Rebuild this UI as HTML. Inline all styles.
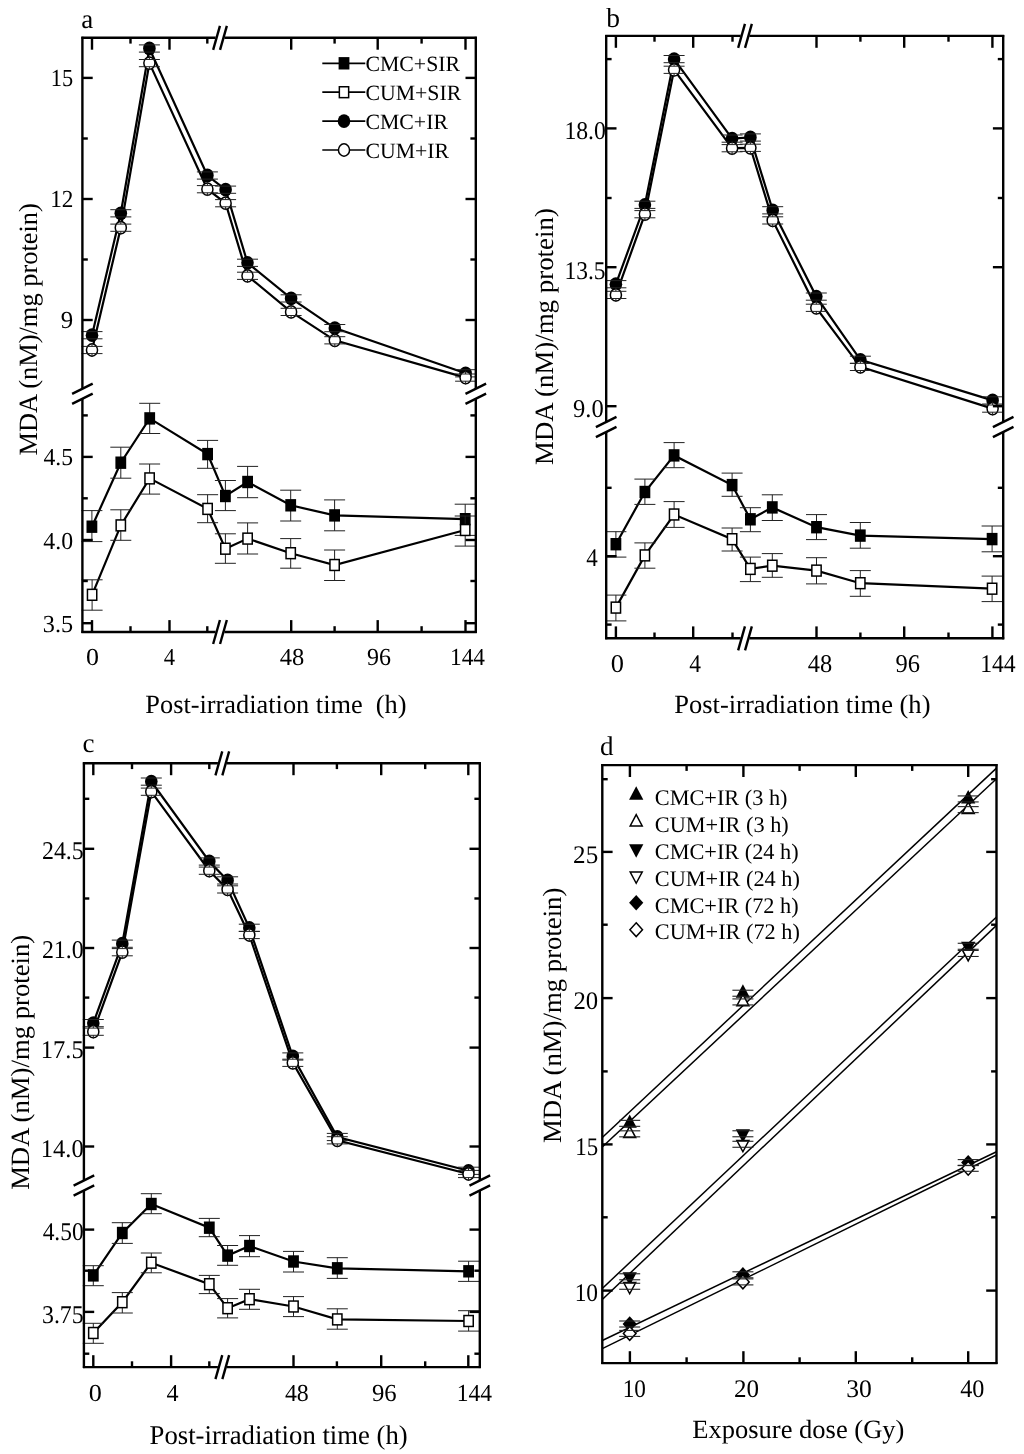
<!DOCTYPE html><html><head><meta charset="utf-8"><style>html,body{margin:0;padding:0;background:#fff;overflow:hidden}svg{display:block;will-change:transform}text{font-family:"Liberation Serif",serif;fill:#000;text-rendering:geometricPrecision}</style></head><body>
<svg width="1024" height="1454" viewBox="0 0 1024 1454">
<rect width="1024" height="1454" fill="#fff"/>
<polyline points="92.00,335.20 120.80,213.30 149.40,48.50 207.40,175.50 225.60,189.70 247.50,262.80 291.10,298.40 334.80,328.10 465.60,373.30" fill="none" stroke="#000" stroke-width="2.2" stroke-linejoin="miter"/>
<polyline points="92.00,350.00 120.80,227.70 149.40,63.10 207.40,189.20 225.60,203.20 247.50,275.80 291.10,311.90 334.80,340.30 465.60,377.60" fill="none" stroke="#000" stroke-width="2.2" stroke-linejoin="miter"/>
<polyline points="91.90,526.70 120.80,462.70 149.70,418.40 207.60,454.10 225.40,496.00 247.60,482.00 290.70,505.30 334.60,515.40 465.20,519.20" fill="none" stroke="#000" stroke-width="2.2" stroke-linejoin="miter"/>
<polyline points="92.10,594.80 120.80,525.40 149.60,478.40 207.60,508.90 225.40,548.70 247.60,538.60 290.70,553.20 334.60,565.00 465.20,530.00" fill="none" stroke="#000" stroke-width="2.2" stroke-linejoin="miter"/>
<line x1="91.90" y1="510.60" x2="91.90" y2="541.60" stroke="#222" stroke-width="1.0" stroke-linecap="butt"/>
<line x1="120.80" y1="447.20" x2="120.80" y2="478.20" stroke="#222" stroke-width="1.0" stroke-linecap="butt"/>
<line x1="149.70" y1="403.30" x2="149.70" y2="433.50" stroke="#222" stroke-width="1.0" stroke-linecap="butt"/>
<line x1="207.60" y1="440.40" x2="207.60" y2="468.30" stroke="#222" stroke-width="1.0" stroke-linecap="butt"/>
<line x1="225.40" y1="480.50" x2="225.40" y2="510.60" stroke="#222" stroke-width="1.0" stroke-linecap="butt"/>
<line x1="247.60" y1="466.40" x2="247.60" y2="497.70" stroke="#222" stroke-width="1.0" stroke-linecap="butt"/>
<line x1="290.70" y1="490.20" x2="290.70" y2="521.00" stroke="#222" stroke-width="1.0" stroke-linecap="butt"/>
<line x1="334.60" y1="499.90" x2="334.60" y2="530.80" stroke="#222" stroke-width="1.0" stroke-linecap="butt"/>
<line x1="465.20" y1="504.20" x2="465.20" y2="535.40" stroke="#222" stroke-width="1.0" stroke-linecap="butt"/>
<line x1="81.40" y1="510.60" x2="102.40" y2="510.60" stroke="#222" stroke-width="1.0" stroke-linecap="butt"/>
<line x1="81.40" y1="541.60" x2="102.40" y2="541.60" stroke="#222" stroke-width="1.0" stroke-linecap="butt"/>
<line x1="110.30" y1="447.20" x2="131.30" y2="447.20" stroke="#222" stroke-width="1.0" stroke-linecap="butt"/>
<line x1="110.30" y1="478.20" x2="131.30" y2="478.20" stroke="#222" stroke-width="1.0" stroke-linecap="butt"/>
<line x1="139.20" y1="403.30" x2="160.20" y2="403.30" stroke="#222" stroke-width="1.0" stroke-linecap="butt"/>
<line x1="139.20" y1="433.50" x2="160.20" y2="433.50" stroke="#222" stroke-width="1.0" stroke-linecap="butt"/>
<line x1="197.10" y1="440.40" x2="218.10" y2="440.40" stroke="#222" stroke-width="1.0" stroke-linecap="butt"/>
<line x1="197.10" y1="468.30" x2="218.10" y2="468.30" stroke="#222" stroke-width="1.0" stroke-linecap="butt"/>
<line x1="214.90" y1="480.50" x2="235.90" y2="480.50" stroke="#222" stroke-width="1.0" stroke-linecap="butt"/>
<line x1="214.90" y1="510.60" x2="235.90" y2="510.60" stroke="#222" stroke-width="1.0" stroke-linecap="butt"/>
<line x1="237.10" y1="466.40" x2="258.10" y2="466.40" stroke="#222" stroke-width="1.0" stroke-linecap="butt"/>
<line x1="237.10" y1="497.70" x2="258.10" y2="497.70" stroke="#222" stroke-width="1.0" stroke-linecap="butt"/>
<line x1="280.20" y1="490.20" x2="301.20" y2="490.20" stroke="#222" stroke-width="1.0" stroke-linecap="butt"/>
<line x1="280.20" y1="521.00" x2="301.20" y2="521.00" stroke="#222" stroke-width="1.0" stroke-linecap="butt"/>
<line x1="324.10" y1="499.90" x2="345.10" y2="499.90" stroke="#222" stroke-width="1.0" stroke-linecap="butt"/>
<line x1="324.10" y1="530.80" x2="345.10" y2="530.80" stroke="#222" stroke-width="1.0" stroke-linecap="butt"/>
<line x1="454.70" y1="504.20" x2="475.70" y2="504.20" stroke="#222" stroke-width="1.0" stroke-linecap="butt"/>
<line x1="454.70" y1="535.40" x2="475.70" y2="535.40" stroke="#222" stroke-width="1.0" stroke-linecap="butt"/>
<rect x="86.50" y="520.50" width="10.8" height="12.4" fill="#000"/>
<rect x="115.40" y="456.50" width="10.8" height="12.4" fill="#000"/>
<rect x="144.30" y="412.20" width="10.8" height="12.4" fill="#000"/>
<rect x="202.20" y="447.90" width="10.8" height="12.4" fill="#000"/>
<rect x="220.00" y="489.80" width="10.8" height="12.4" fill="#000"/>
<rect x="242.20" y="475.80" width="10.8" height="12.4" fill="#000"/>
<rect x="285.30" y="499.10" width="10.8" height="12.4" fill="#000"/>
<rect x="329.20" y="509.20" width="10.8" height="12.4" fill="#000"/>
<rect x="459.80" y="513.00" width="10.8" height="12.4" fill="#000"/>
<line x1="92.10" y1="579.80" x2="92.10" y2="610.20" stroke="#222" stroke-width="1.0" stroke-linecap="butt"/>
<line x1="120.80" y1="509.80" x2="120.80" y2="540.30" stroke="#222" stroke-width="1.0" stroke-linecap="butt"/>
<line x1="149.60" y1="464.00" x2="149.60" y2="494.10" stroke="#222" stroke-width="1.0" stroke-linecap="butt"/>
<line x1="207.60" y1="494.70" x2="207.60" y2="522.70" stroke="#222" stroke-width="1.0" stroke-linecap="butt"/>
<line x1="225.40" y1="533.80" x2="225.40" y2="563.30" stroke="#222" stroke-width="1.0" stroke-linecap="butt"/>
<line x1="247.60" y1="522.90" x2="247.60" y2="554.00" stroke="#222" stroke-width="1.0" stroke-linecap="butt"/>
<line x1="290.70" y1="538.60" x2="290.70" y2="568.20" stroke="#222" stroke-width="1.0" stroke-linecap="butt"/>
<line x1="334.60" y1="550.00" x2="334.60" y2="580.50" stroke="#222" stroke-width="1.0" stroke-linecap="butt"/>
<line x1="465.20" y1="516.00" x2="465.20" y2="546.10" stroke="#222" stroke-width="1.0" stroke-linecap="butt"/>
<line x1="81.60" y1="579.80" x2="102.60" y2="579.80" stroke="#222" stroke-width="1.0" stroke-linecap="butt"/>
<line x1="81.60" y1="610.20" x2="102.60" y2="610.20" stroke="#222" stroke-width="1.0" stroke-linecap="butt"/>
<line x1="110.30" y1="509.80" x2="131.30" y2="509.80" stroke="#222" stroke-width="1.0" stroke-linecap="butt"/>
<line x1="110.30" y1="540.30" x2="131.30" y2="540.30" stroke="#222" stroke-width="1.0" stroke-linecap="butt"/>
<line x1="139.10" y1="464.00" x2="160.10" y2="464.00" stroke="#222" stroke-width="1.0" stroke-linecap="butt"/>
<line x1="139.10" y1="494.10" x2="160.10" y2="494.10" stroke="#222" stroke-width="1.0" stroke-linecap="butt"/>
<line x1="197.10" y1="494.70" x2="218.10" y2="494.70" stroke="#222" stroke-width="1.0" stroke-linecap="butt"/>
<line x1="197.10" y1="522.70" x2="218.10" y2="522.70" stroke="#222" stroke-width="1.0" stroke-linecap="butt"/>
<line x1="214.90" y1="533.80" x2="235.90" y2="533.80" stroke="#222" stroke-width="1.0" stroke-linecap="butt"/>
<line x1="214.90" y1="563.30" x2="235.90" y2="563.30" stroke="#222" stroke-width="1.0" stroke-linecap="butt"/>
<line x1="237.10" y1="522.90" x2="258.10" y2="522.90" stroke="#222" stroke-width="1.0" stroke-linecap="butt"/>
<line x1="237.10" y1="554.00" x2="258.10" y2="554.00" stroke="#222" stroke-width="1.0" stroke-linecap="butt"/>
<line x1="280.20" y1="538.60" x2="301.20" y2="538.60" stroke="#222" stroke-width="1.0" stroke-linecap="butt"/>
<line x1="280.20" y1="568.20" x2="301.20" y2="568.20" stroke="#222" stroke-width="1.0" stroke-linecap="butt"/>
<line x1="324.10" y1="550.00" x2="345.10" y2="550.00" stroke="#222" stroke-width="1.0" stroke-linecap="butt"/>
<line x1="324.10" y1="580.50" x2="345.10" y2="580.50" stroke="#222" stroke-width="1.0" stroke-linecap="butt"/>
<line x1="454.70" y1="516.00" x2="475.70" y2="516.00" stroke="#222" stroke-width="1.0" stroke-linecap="butt"/>
<line x1="454.70" y1="546.10" x2="475.70" y2="546.10" stroke="#222" stroke-width="1.0" stroke-linecap="butt"/>
<rect x="87.45" y="589.35" width="9.30" height="10.90" fill="#fff" stroke="#000" stroke-width="1.5"/>
<rect x="116.15" y="519.95" width="9.30" height="10.90" fill="#fff" stroke="#000" stroke-width="1.5"/>
<rect x="144.95" y="472.95" width="9.30" height="10.90" fill="#fff" stroke="#000" stroke-width="1.5"/>
<rect x="202.95" y="503.45" width="9.30" height="10.90" fill="#fff" stroke="#000" stroke-width="1.5"/>
<rect x="220.75" y="543.25" width="9.30" height="10.90" fill="#fff" stroke="#000" stroke-width="1.5"/>
<rect x="242.95" y="533.15" width="9.30" height="10.90" fill="#fff" stroke="#000" stroke-width="1.5"/>
<rect x="286.05" y="547.75" width="9.30" height="10.90" fill="#fff" stroke="#000" stroke-width="1.5"/>
<rect x="329.95" y="559.55" width="9.30" height="10.90" fill="#fff" stroke="#000" stroke-width="1.5"/>
<rect x="460.55" y="524.55" width="9.30" height="10.90" fill="#fff" stroke="#000" stroke-width="1.5"/>
<ellipse cx="92.00" cy="335.20" rx="6.3" ry="6.9" fill="#000"/>
<ellipse cx="120.80" cy="213.30" rx="6.3" ry="6.9" fill="#000"/>
<ellipse cx="149.40" cy="48.50" rx="6.3" ry="6.9" fill="#000"/>
<ellipse cx="207.40" cy="175.50" rx="6.3" ry="6.9" fill="#000"/>
<ellipse cx="225.60" cy="189.70" rx="6.3" ry="6.9" fill="#000"/>
<ellipse cx="247.50" cy="262.80" rx="6.3" ry="6.9" fill="#000"/>
<ellipse cx="291.10" cy="298.40" rx="6.3" ry="6.9" fill="#000"/>
<ellipse cx="334.80" cy="328.10" rx="6.3" ry="6.9" fill="#000"/>
<ellipse cx="465.60" cy="373.30" rx="6.3" ry="6.9" fill="#000"/>
<line x1="81.50" y1="331.60" x2="102.50" y2="331.60" stroke="#222" stroke-width="1.0" stroke-linecap="butt"/>
<line x1="81.50" y1="338.80" x2="102.50" y2="338.80" stroke="#222" stroke-width="1.0" stroke-linecap="butt"/>
<line x1="110.30" y1="209.70" x2="131.30" y2="209.70" stroke="#222" stroke-width="1.0" stroke-linecap="butt"/>
<line x1="110.30" y1="216.90" x2="131.30" y2="216.90" stroke="#222" stroke-width="1.0" stroke-linecap="butt"/>
<line x1="138.90" y1="44.90" x2="159.90" y2="44.90" stroke="#222" stroke-width="1.0" stroke-linecap="butt"/>
<line x1="138.90" y1="52.10" x2="159.90" y2="52.10" stroke="#222" stroke-width="1.0" stroke-linecap="butt"/>
<line x1="196.90" y1="171.90" x2="217.90" y2="171.90" stroke="#222" stroke-width="1.0" stroke-linecap="butt"/>
<line x1="196.90" y1="179.10" x2="217.90" y2="179.10" stroke="#222" stroke-width="1.0" stroke-linecap="butt"/>
<line x1="215.10" y1="186.10" x2="236.10" y2="186.10" stroke="#222" stroke-width="1.0" stroke-linecap="butt"/>
<line x1="215.10" y1="193.30" x2="236.10" y2="193.30" stroke="#222" stroke-width="1.0" stroke-linecap="butt"/>
<line x1="237.00" y1="259.20" x2="258.00" y2="259.20" stroke="#222" stroke-width="1.0" stroke-linecap="butt"/>
<line x1="237.00" y1="266.40" x2="258.00" y2="266.40" stroke="#222" stroke-width="1.0" stroke-linecap="butt"/>
<line x1="280.60" y1="294.80" x2="301.60" y2="294.80" stroke="#222" stroke-width="1.0" stroke-linecap="butt"/>
<line x1="280.60" y1="302.00" x2="301.60" y2="302.00" stroke="#222" stroke-width="1.0" stroke-linecap="butt"/>
<line x1="324.30" y1="324.50" x2="345.30" y2="324.50" stroke="#222" stroke-width="1.0" stroke-linecap="butt"/>
<line x1="324.30" y1="331.70" x2="345.30" y2="331.70" stroke="#222" stroke-width="1.0" stroke-linecap="butt"/>
<line x1="455.10" y1="369.70" x2="476.10" y2="369.70" stroke="#222" stroke-width="1.0" stroke-linecap="butt"/>
<line x1="455.10" y1="376.90" x2="476.10" y2="376.90" stroke="#222" stroke-width="1.0" stroke-linecap="butt"/>
<ellipse cx="92.00" cy="350.00" rx="5.55" ry="6.15" fill="#fff" stroke="#000" stroke-width="1.5"/>
<ellipse cx="120.80" cy="227.70" rx="5.55" ry="6.15" fill="#fff" stroke="#000" stroke-width="1.5"/>
<ellipse cx="149.40" cy="63.10" rx="5.55" ry="6.15" fill="#fff" stroke="#000" stroke-width="1.5"/>
<ellipse cx="207.40" cy="189.20" rx="5.55" ry="6.15" fill="#fff" stroke="#000" stroke-width="1.5"/>
<ellipse cx="225.60" cy="203.20" rx="5.55" ry="6.15" fill="#fff" stroke="#000" stroke-width="1.5"/>
<ellipse cx="247.50" cy="275.80" rx="5.55" ry="6.15" fill="#fff" stroke="#000" stroke-width="1.5"/>
<ellipse cx="291.10" cy="311.90" rx="5.55" ry="6.15" fill="#fff" stroke="#000" stroke-width="1.5"/>
<ellipse cx="334.80" cy="340.30" rx="5.55" ry="6.15" fill="#fff" stroke="#000" stroke-width="1.5"/>
<ellipse cx="465.60" cy="377.60" rx="5.55" ry="6.15" fill="#fff" stroke="#000" stroke-width="1.5"/>
<line x1="92.00" y1="346.40" x2="92.00" y2="343.10" stroke="#222" stroke-width="1.0" stroke-linecap="butt"/>
<line x1="81.50" y1="346.40" x2="102.50" y2="346.40" stroke="#222" stroke-width="1.0" stroke-linecap="butt"/>
<line x1="92.00" y1="353.60" x2="92.00" y2="356.90" stroke="#222" stroke-width="1.0" stroke-linecap="butt"/>
<line x1="81.50" y1="353.60" x2="102.50" y2="353.60" stroke="#222" stroke-width="1.0" stroke-linecap="butt"/>
<line x1="120.80" y1="224.10" x2="120.80" y2="220.80" stroke="#222" stroke-width="1.0" stroke-linecap="butt"/>
<line x1="110.30" y1="224.10" x2="131.30" y2="224.10" stroke="#222" stroke-width="1.0" stroke-linecap="butt"/>
<line x1="120.80" y1="231.30" x2="120.80" y2="234.60" stroke="#222" stroke-width="1.0" stroke-linecap="butt"/>
<line x1="110.30" y1="231.30" x2="131.30" y2="231.30" stroke="#222" stroke-width="1.0" stroke-linecap="butt"/>
<line x1="149.40" y1="59.50" x2="149.40" y2="56.20" stroke="#222" stroke-width="1.0" stroke-linecap="butt"/>
<line x1="138.90" y1="59.50" x2="159.90" y2="59.50" stroke="#222" stroke-width="1.0" stroke-linecap="butt"/>
<line x1="149.40" y1="66.70" x2="149.40" y2="70.00" stroke="#222" stroke-width="1.0" stroke-linecap="butt"/>
<line x1="138.90" y1="66.70" x2="159.90" y2="66.70" stroke="#222" stroke-width="1.0" stroke-linecap="butt"/>
<line x1="207.40" y1="185.60" x2="207.40" y2="182.30" stroke="#222" stroke-width="1.0" stroke-linecap="butt"/>
<line x1="196.90" y1="185.60" x2="217.90" y2="185.60" stroke="#222" stroke-width="1.0" stroke-linecap="butt"/>
<line x1="207.40" y1="192.80" x2="207.40" y2="196.10" stroke="#222" stroke-width="1.0" stroke-linecap="butt"/>
<line x1="196.90" y1="192.80" x2="217.90" y2="192.80" stroke="#222" stroke-width="1.0" stroke-linecap="butt"/>
<line x1="225.60" y1="199.60" x2="225.60" y2="196.30" stroke="#222" stroke-width="1.0" stroke-linecap="butt"/>
<line x1="215.10" y1="199.60" x2="236.10" y2="199.60" stroke="#222" stroke-width="1.0" stroke-linecap="butt"/>
<line x1="225.60" y1="206.80" x2="225.60" y2="210.10" stroke="#222" stroke-width="1.0" stroke-linecap="butt"/>
<line x1="215.10" y1="206.80" x2="236.10" y2="206.80" stroke="#222" stroke-width="1.0" stroke-linecap="butt"/>
<line x1="247.50" y1="272.20" x2="247.50" y2="268.90" stroke="#222" stroke-width="1.0" stroke-linecap="butt"/>
<line x1="237.00" y1="272.20" x2="258.00" y2="272.20" stroke="#222" stroke-width="1.0" stroke-linecap="butt"/>
<line x1="247.50" y1="279.40" x2="247.50" y2="282.70" stroke="#222" stroke-width="1.0" stroke-linecap="butt"/>
<line x1="237.00" y1="279.40" x2="258.00" y2="279.40" stroke="#222" stroke-width="1.0" stroke-linecap="butt"/>
<line x1="291.10" y1="308.30" x2="291.10" y2="305.00" stroke="#222" stroke-width="1.0" stroke-linecap="butt"/>
<line x1="280.60" y1="308.30" x2="301.60" y2="308.30" stroke="#222" stroke-width="1.0" stroke-linecap="butt"/>
<line x1="291.10" y1="315.50" x2="291.10" y2="318.80" stroke="#222" stroke-width="1.0" stroke-linecap="butt"/>
<line x1="280.60" y1="315.50" x2="301.60" y2="315.50" stroke="#222" stroke-width="1.0" stroke-linecap="butt"/>
<line x1="334.80" y1="336.70" x2="334.80" y2="333.40" stroke="#222" stroke-width="1.0" stroke-linecap="butt"/>
<line x1="324.30" y1="336.70" x2="345.30" y2="336.70" stroke="#222" stroke-width="1.0" stroke-linecap="butt"/>
<line x1="334.80" y1="343.90" x2="334.80" y2="347.20" stroke="#222" stroke-width="1.0" stroke-linecap="butt"/>
<line x1="324.30" y1="343.90" x2="345.30" y2="343.90" stroke="#222" stroke-width="1.0" stroke-linecap="butt"/>
<line x1="465.60" y1="374.00" x2="465.60" y2="370.70" stroke="#222" stroke-width="1.0" stroke-linecap="butt"/>
<line x1="455.10" y1="374.00" x2="476.10" y2="374.00" stroke="#222" stroke-width="1.0" stroke-linecap="butt"/>
<line x1="465.60" y1="381.20" x2="465.60" y2="384.50" stroke="#222" stroke-width="1.0" stroke-linecap="butt"/>
<line x1="455.10" y1="381.20" x2="476.10" y2="381.20" stroke="#222" stroke-width="1.0" stroke-linecap="butt"/>
<line x1="81.40" y1="37.80" x2="215.60" y2="37.80" stroke="#000" stroke-width="2.4" stroke-linecap="butt"/>
<line x1="224.40" y1="37.80" x2="476.80" y2="37.80" stroke="#000" stroke-width="2.4" stroke-linecap="butt"/>
<line x1="81.40" y1="632.00" x2="215.60" y2="632.00" stroke="#000" stroke-width="2.4" stroke-linecap="butt"/>
<line x1="224.40" y1="632.00" x2="476.80" y2="632.00" stroke="#000" stroke-width="2.4" stroke-linecap="butt"/>
<line x1="82.40" y1="36.80" x2="82.40" y2="388.70" stroke="#000" stroke-width="2.4" stroke-linecap="butt"/>
<line x1="82.40" y1="398.70" x2="82.40" y2="633.00" stroke="#000" stroke-width="2.4" stroke-linecap="butt"/>
<line x1="475.80" y1="36.80" x2="475.80" y2="388.70" stroke="#000" stroke-width="2.4" stroke-linecap="butt"/>
<line x1="475.80" y1="398.70" x2="475.80" y2="633.00" stroke="#000" stroke-width="2.4" stroke-linecap="butt"/>
<line x1="92.00" y1="632.00" x2="92.00" y2="620.10" stroke="#000" stroke-width="2.4" stroke-linecap="butt"/>
<line x1="92.00" y1="37.80" x2="92.00" y2="49.70" stroke="#000" stroke-width="2.4" stroke-linecap="butt"/>
<line x1="169.50" y1="632.00" x2="169.50" y2="620.10" stroke="#000" stroke-width="2.4" stroke-linecap="butt"/>
<line x1="169.50" y1="37.80" x2="169.50" y2="49.70" stroke="#000" stroke-width="2.4" stroke-linecap="butt"/>
<line x1="291.20" y1="632.00" x2="291.20" y2="620.10" stroke="#000" stroke-width="2.4" stroke-linecap="butt"/>
<line x1="291.20" y1="37.80" x2="291.20" y2="49.70" stroke="#000" stroke-width="2.4" stroke-linecap="butt"/>
<line x1="377.70" y1="632.00" x2="377.70" y2="620.10" stroke="#000" stroke-width="2.4" stroke-linecap="butt"/>
<line x1="377.70" y1="37.80" x2="377.70" y2="49.70" stroke="#000" stroke-width="2.4" stroke-linecap="butt"/>
<line x1="465.50" y1="632.00" x2="465.50" y2="620.10" stroke="#000" stroke-width="2.4" stroke-linecap="butt"/>
<line x1="465.50" y1="37.80" x2="465.50" y2="49.70" stroke="#000" stroke-width="2.4" stroke-linecap="butt"/>
<line x1="130.50" y1="632.00" x2="130.50" y2="626.20" stroke="#000" stroke-width="2.4" stroke-linecap="butt"/>
<line x1="130.50" y1="37.80" x2="130.50" y2="43.60" stroke="#000" stroke-width="2.4" stroke-linecap="butt"/>
<line x1="207.30" y1="632.00" x2="207.30" y2="626.20" stroke="#000" stroke-width="2.4" stroke-linecap="butt"/>
<line x1="207.30" y1="37.80" x2="207.30" y2="43.60" stroke="#000" stroke-width="2.4" stroke-linecap="butt"/>
<line x1="334.60" y1="632.00" x2="334.60" y2="626.20" stroke="#000" stroke-width="2.4" stroke-linecap="butt"/>
<line x1="334.60" y1="37.80" x2="334.60" y2="43.60" stroke="#000" stroke-width="2.4" stroke-linecap="butt"/>
<line x1="421.60" y1="632.00" x2="421.60" y2="626.20" stroke="#000" stroke-width="2.4" stroke-linecap="butt"/>
<line x1="421.60" y1="37.80" x2="421.60" y2="43.60" stroke="#000" stroke-width="2.4" stroke-linecap="butt"/>
<line x1="82.40" y1="77.90" x2="92.70" y2="77.90" stroke="#000" stroke-width="2.4" stroke-linecap="butt"/>
<line x1="475.80" y1="77.90" x2="465.50" y2="77.90" stroke="#000" stroke-width="2.4" stroke-linecap="butt"/>
<line x1="82.40" y1="199.00" x2="92.70" y2="199.00" stroke="#000" stroke-width="2.4" stroke-linecap="butt"/>
<line x1="475.80" y1="199.00" x2="465.50" y2="199.00" stroke="#000" stroke-width="2.4" stroke-linecap="butt"/>
<line x1="82.40" y1="320.00" x2="92.70" y2="320.00" stroke="#000" stroke-width="2.4" stroke-linecap="butt"/>
<line x1="475.80" y1="320.00" x2="465.50" y2="320.00" stroke="#000" stroke-width="2.4" stroke-linecap="butt"/>
<line x1="82.40" y1="456.90" x2="92.70" y2="456.90" stroke="#000" stroke-width="2.4" stroke-linecap="butt"/>
<line x1="475.80" y1="456.90" x2="465.50" y2="456.90" stroke="#000" stroke-width="2.4" stroke-linecap="butt"/>
<line x1="82.40" y1="540.00" x2="92.70" y2="540.00" stroke="#000" stroke-width="2.4" stroke-linecap="butt"/>
<line x1="475.80" y1="540.00" x2="465.50" y2="540.00" stroke="#000" stroke-width="2.4" stroke-linecap="butt"/>
<line x1="82.40" y1="623.20" x2="92.70" y2="623.20" stroke="#000" stroke-width="2.4" stroke-linecap="butt"/>
<line x1="475.80" y1="623.20" x2="465.50" y2="623.20" stroke="#000" stroke-width="2.4" stroke-linecap="butt"/>
<line x1="82.40" y1="138.50" x2="87.80" y2="138.50" stroke="#000" stroke-width="2.4" stroke-linecap="butt"/>
<line x1="475.80" y1="138.50" x2="470.40" y2="138.50" stroke="#000" stroke-width="2.4" stroke-linecap="butt"/>
<line x1="82.40" y1="259.50" x2="87.80" y2="259.50" stroke="#000" stroke-width="2.4" stroke-linecap="butt"/>
<line x1="475.80" y1="259.50" x2="470.40" y2="259.50" stroke="#000" stroke-width="2.4" stroke-linecap="butt"/>
<line x1="82.40" y1="415.40" x2="87.80" y2="415.40" stroke="#000" stroke-width="2.4" stroke-linecap="butt"/>
<line x1="475.80" y1="415.40" x2="470.40" y2="415.40" stroke="#000" stroke-width="2.4" stroke-linecap="butt"/>
<line x1="82.40" y1="498.30" x2="87.80" y2="498.30" stroke="#000" stroke-width="2.4" stroke-linecap="butt"/>
<line x1="475.80" y1="498.30" x2="470.40" y2="498.30" stroke="#000" stroke-width="2.4" stroke-linecap="butt"/>
<line x1="82.40" y1="581.00" x2="87.80" y2="581.00" stroke="#000" stroke-width="2.4" stroke-linecap="butt"/>
<line x1="475.80" y1="581.00" x2="470.40" y2="581.00" stroke="#000" stroke-width="2.4" stroke-linecap="butt"/>
<line x1="72.10" y1="393.80" x2="92.70" y2="383.60" stroke="#000" stroke-width="2.4" stroke-linecap="butt"/>
<line x1="72.10" y1="403.80" x2="92.70" y2="393.60" stroke="#000" stroke-width="2.4" stroke-linecap="butt"/>
<line x1="465.50" y1="393.80" x2="486.10" y2="383.60" stroke="#000" stroke-width="2.4" stroke-linecap="butt"/>
<line x1="465.50" y1="403.80" x2="486.10" y2="393.60" stroke="#000" stroke-width="2.4" stroke-linecap="butt"/>
<line x1="213.15" y1="49.80" x2="219.95" y2="25.80" stroke="#000" stroke-width="2.4" stroke-linecap="butt"/>
<line x1="220.05" y1="49.80" x2="226.85" y2="25.80" stroke="#000" stroke-width="2.4" stroke-linecap="butt"/>
<line x1="213.15" y1="644.00" x2="219.95" y2="620.00" stroke="#000" stroke-width="2.4" stroke-linecap="butt"/>
<line x1="220.05" y1="644.00" x2="226.85" y2="620.00" stroke="#000" stroke-width="2.4" stroke-linecap="butt"/>
<text x="50.74" y="85.62" font-size="24.5" textLength="22.34" lengthAdjust="spacingAndGlyphs">15</text>
<text x="50.26" y="207.22" font-size="24.5" textLength="23.22" lengthAdjust="spacingAndGlyphs">12</text>
<text x="60.80" y="328.02" font-size="24.5" textLength="12.42" lengthAdjust="spacingAndGlyphs">9</text>
<text x="43.54" y="465.22" font-size="24.5" textLength="29.59" lengthAdjust="spacingAndGlyphs">4.5</text>
<text x="43.33" y="548.77" font-size="24.5" textLength="29.77" lengthAdjust="spacingAndGlyphs">4.0</text>
<text x="42.84" y="631.62" font-size="24.5" textLength="30.31" lengthAdjust="spacingAndGlyphs">3.5</text>
<text x="86.01" y="664.70" font-size="24.5" textLength="12.98" lengthAdjust="spacingAndGlyphs">0</text>
<text x="163.81" y="664.70" font-size="24.5" textLength="11.29" lengthAdjust="spacingAndGlyphs">4</text>
<text x="279.72" y="664.70" font-size="24.5" textLength="24.51" lengthAdjust="spacingAndGlyphs">48</text>
<text x="366.98" y="664.70" font-size="24.5" textLength="23.99" lengthAdjust="spacingAndGlyphs">96</text>
<text x="450.05" y="664.70" font-size="24.5" textLength="34.91" lengthAdjust="spacingAndGlyphs">144</text>
<text x="145.34" y="712.60" font-size="26.3" textLength="261.22" lengthAdjust="spacingAndGlyphs">Post-irradiation time  (h)</text>
<text transform="translate(37.10,455.56) rotate(-90)" x="0" y="0" font-size="26.4" textLength="252.41" lengthAdjust="spacingAndGlyphs">MDA (nM)/mg protein)</text>
<text x="81.15" y="27.80" font-size="27.0">a</text>
<line x1="322.30" y1="63.30" x2="365.30" y2="63.30" stroke="#000" stroke-width="1.7" stroke-linecap="butt"/>
<rect x="338.60" y="57.10" width="10.8" height="12.4" fill="#000"/>
<text x="365.41" y="71.40" font-size="21.8">CMC+SIR</text>
<line x1="322.30" y1="92.20" x2="365.30" y2="92.20" stroke="#000" stroke-width="1.7" stroke-linecap="butt"/>
<rect x="339.35" y="86.75" width="9.30" height="10.90" fill="#fff" stroke="#000" stroke-width="1.5"/>
<text x="365.41" y="100.30" font-size="21.8">CUM+SIR</text>
<line x1="322.30" y1="121.10" x2="365.30" y2="121.10" stroke="#000" stroke-width="1.7" stroke-linecap="butt"/>
<ellipse cx="344.00" cy="121.10" rx="6.3" ry="6.9" fill="#000"/>
<text x="365.41" y="129.20" font-size="21.8">CMC+IR</text>
<line x1="322.30" y1="150.00" x2="365.30" y2="150.00" stroke="#000" stroke-width="1.7" stroke-linecap="butt"/>
<ellipse cx="344.00" cy="150.00" rx="5.55" ry="6.15" fill="#fff" stroke="#000" stroke-width="1.5"/>
<text x="365.41" y="158.10" font-size="21.8">CUM+IR</text>
<polyline points="615.90,284.20 644.90,204.80 674.10,59.10 732.10,138.60 750.40,137.50 772.70,210.30 816.30,296.60 860.40,359.80 992.60,400.40" fill="none" stroke="#000" stroke-width="2.2" stroke-linejoin="miter"/>
<polyline points="615.90,294.90 644.90,214.20 674.10,69.80 732.10,148.20 750.40,147.80 772.70,220.40 816.30,307.80 860.40,366.90 992.60,408.60" fill="none" stroke="#000" stroke-width="2.2" stroke-linejoin="miter"/>
<polyline points="615.90,544.20 644.90,492.00 674.10,455.40 732.10,485.10 750.40,519.30 772.30,507.40 816.50,527.20 860.30,535.60 992.10,539.10" fill="none" stroke="#000" stroke-width="2.2" stroke-linejoin="miter"/>
<polyline points="615.90,607.60 644.90,555.40 674.10,514.50 732.10,539.20 750.40,568.90 772.30,565.70 816.50,570.60 860.30,583.20 992.10,588.70" fill="none" stroke="#000" stroke-width="2.2" stroke-linejoin="miter"/>
<line x1="615.90" y1="531.70" x2="615.90" y2="557.10" stroke="#222" stroke-width="1.0" stroke-linecap="butt"/>
<line x1="644.90" y1="479.10" x2="644.90" y2="504.40" stroke="#222" stroke-width="1.0" stroke-linecap="butt"/>
<line x1="674.10" y1="442.60" x2="674.10" y2="467.70" stroke="#222" stroke-width="1.0" stroke-linecap="butt"/>
<line x1="732.10" y1="473.10" x2="732.10" y2="496.30" stroke="#222" stroke-width="1.0" stroke-linecap="butt"/>
<line x1="750.40" y1="507.70" x2="750.40" y2="531.70" stroke="#222" stroke-width="1.0" stroke-linecap="butt"/>
<line x1="772.30" y1="494.80" x2="772.30" y2="520.50" stroke="#222" stroke-width="1.0" stroke-linecap="butt"/>
<line x1="816.50" y1="514.60" x2="816.50" y2="539.60" stroke="#222" stroke-width="1.0" stroke-linecap="butt"/>
<line x1="860.30" y1="522.50" x2="860.30" y2="548.20" stroke="#222" stroke-width="1.0" stroke-linecap="butt"/>
<line x1="992.10" y1="526.00" x2="992.10" y2="551.80" stroke="#222" stroke-width="1.0" stroke-linecap="butt"/>
<line x1="605.40" y1="531.70" x2="626.40" y2="531.70" stroke="#222" stroke-width="1.0" stroke-linecap="butt"/>
<line x1="605.40" y1="557.10" x2="626.40" y2="557.10" stroke="#222" stroke-width="1.0" stroke-linecap="butt"/>
<line x1="634.40" y1="479.10" x2="655.40" y2="479.10" stroke="#222" stroke-width="1.0" stroke-linecap="butt"/>
<line x1="634.40" y1="504.40" x2="655.40" y2="504.40" stroke="#222" stroke-width="1.0" stroke-linecap="butt"/>
<line x1="663.60" y1="442.60" x2="684.60" y2="442.60" stroke="#222" stroke-width="1.0" stroke-linecap="butt"/>
<line x1="663.60" y1="467.70" x2="684.60" y2="467.70" stroke="#222" stroke-width="1.0" stroke-linecap="butt"/>
<line x1="721.60" y1="473.10" x2="742.60" y2="473.10" stroke="#222" stroke-width="1.0" stroke-linecap="butt"/>
<line x1="721.60" y1="496.30" x2="742.60" y2="496.30" stroke="#222" stroke-width="1.0" stroke-linecap="butt"/>
<line x1="739.90" y1="507.70" x2="760.90" y2="507.70" stroke="#222" stroke-width="1.0" stroke-linecap="butt"/>
<line x1="739.90" y1="531.70" x2="760.90" y2="531.70" stroke="#222" stroke-width="1.0" stroke-linecap="butt"/>
<line x1="761.80" y1="494.80" x2="782.80" y2="494.80" stroke="#222" stroke-width="1.0" stroke-linecap="butt"/>
<line x1="761.80" y1="520.50" x2="782.80" y2="520.50" stroke="#222" stroke-width="1.0" stroke-linecap="butt"/>
<line x1="806.00" y1="514.60" x2="827.00" y2="514.60" stroke="#222" stroke-width="1.0" stroke-linecap="butt"/>
<line x1="806.00" y1="539.60" x2="827.00" y2="539.60" stroke="#222" stroke-width="1.0" stroke-linecap="butt"/>
<line x1="849.80" y1="522.50" x2="870.80" y2="522.50" stroke="#222" stroke-width="1.0" stroke-linecap="butt"/>
<line x1="849.80" y1="548.20" x2="870.80" y2="548.20" stroke="#222" stroke-width="1.0" stroke-linecap="butt"/>
<line x1="981.60" y1="526.00" x2="1002.60" y2="526.00" stroke="#222" stroke-width="1.0" stroke-linecap="butt"/>
<line x1="981.60" y1="551.80" x2="1002.60" y2="551.80" stroke="#222" stroke-width="1.0" stroke-linecap="butt"/>
<rect x="610.50" y="538.00" width="10.8" height="12.4" fill="#000"/>
<rect x="639.50" y="485.80" width="10.8" height="12.4" fill="#000"/>
<rect x="668.70" y="449.20" width="10.8" height="12.4" fill="#000"/>
<rect x="726.70" y="478.90" width="10.8" height="12.4" fill="#000"/>
<rect x="745.00" y="513.10" width="10.8" height="12.4" fill="#000"/>
<rect x="766.90" y="501.20" width="10.8" height="12.4" fill="#000"/>
<rect x="811.10" y="521.00" width="10.8" height="12.4" fill="#000"/>
<rect x="854.90" y="529.40" width="10.8" height="12.4" fill="#000"/>
<rect x="986.70" y="532.90" width="10.8" height="12.4" fill="#000"/>
<line x1="615.90" y1="595.10" x2="615.90" y2="620.90" stroke="#222" stroke-width="1.0" stroke-linecap="butt"/>
<line x1="644.90" y1="542.90" x2="644.90" y2="568.20" stroke="#222" stroke-width="1.0" stroke-linecap="butt"/>
<line x1="674.10" y1="501.60" x2="674.10" y2="527.40" stroke="#222" stroke-width="1.0" stroke-linecap="butt"/>
<line x1="732.10" y1="528.00" x2="732.10" y2="551.00" stroke="#222" stroke-width="1.0" stroke-linecap="butt"/>
<line x1="750.40" y1="557.10" x2="750.40" y2="581.60" stroke="#222" stroke-width="1.0" stroke-linecap="butt"/>
<line x1="772.30" y1="553.60" x2="772.30" y2="577.30" stroke="#222" stroke-width="1.0" stroke-linecap="butt"/>
<line x1="816.50" y1="557.70" x2="816.50" y2="583.90" stroke="#222" stroke-width="1.0" stroke-linecap="butt"/>
<line x1="860.30" y1="570.60" x2="860.30" y2="596.30" stroke="#222" stroke-width="1.0" stroke-linecap="butt"/>
<line x1="992.10" y1="576.10" x2="992.10" y2="601.60" stroke="#222" stroke-width="1.0" stroke-linecap="butt"/>
<line x1="605.40" y1="595.10" x2="626.40" y2="595.10" stroke="#222" stroke-width="1.0" stroke-linecap="butt"/>
<line x1="605.40" y1="620.90" x2="626.40" y2="620.90" stroke="#222" stroke-width="1.0" stroke-linecap="butt"/>
<line x1="634.40" y1="542.90" x2="655.40" y2="542.90" stroke="#222" stroke-width="1.0" stroke-linecap="butt"/>
<line x1="634.40" y1="568.20" x2="655.40" y2="568.20" stroke="#222" stroke-width="1.0" stroke-linecap="butt"/>
<line x1="663.60" y1="501.60" x2="684.60" y2="501.60" stroke="#222" stroke-width="1.0" stroke-linecap="butt"/>
<line x1="663.60" y1="527.40" x2="684.60" y2="527.40" stroke="#222" stroke-width="1.0" stroke-linecap="butt"/>
<line x1="721.60" y1="528.00" x2="742.60" y2="528.00" stroke="#222" stroke-width="1.0" stroke-linecap="butt"/>
<line x1="721.60" y1="551.00" x2="742.60" y2="551.00" stroke="#222" stroke-width="1.0" stroke-linecap="butt"/>
<line x1="739.90" y1="557.10" x2="760.90" y2="557.10" stroke="#222" stroke-width="1.0" stroke-linecap="butt"/>
<line x1="739.90" y1="581.60" x2="760.90" y2="581.60" stroke="#222" stroke-width="1.0" stroke-linecap="butt"/>
<line x1="761.80" y1="553.60" x2="782.80" y2="553.60" stroke="#222" stroke-width="1.0" stroke-linecap="butt"/>
<line x1="761.80" y1="577.30" x2="782.80" y2="577.30" stroke="#222" stroke-width="1.0" stroke-linecap="butt"/>
<line x1="806.00" y1="557.70" x2="827.00" y2="557.70" stroke="#222" stroke-width="1.0" stroke-linecap="butt"/>
<line x1="806.00" y1="583.90" x2="827.00" y2="583.90" stroke="#222" stroke-width="1.0" stroke-linecap="butt"/>
<line x1="849.80" y1="570.60" x2="870.80" y2="570.60" stroke="#222" stroke-width="1.0" stroke-linecap="butt"/>
<line x1="849.80" y1="596.30" x2="870.80" y2="596.30" stroke="#222" stroke-width="1.0" stroke-linecap="butt"/>
<line x1="981.60" y1="576.10" x2="1002.60" y2="576.10" stroke="#222" stroke-width="1.0" stroke-linecap="butt"/>
<line x1="981.60" y1="601.60" x2="1002.60" y2="601.60" stroke="#222" stroke-width="1.0" stroke-linecap="butt"/>
<rect x="611.25" y="602.15" width="9.30" height="10.90" fill="#fff" stroke="#000" stroke-width="1.5"/>
<rect x="640.25" y="549.95" width="9.30" height="10.90" fill="#fff" stroke="#000" stroke-width="1.5"/>
<rect x="669.45" y="509.05" width="9.30" height="10.90" fill="#fff" stroke="#000" stroke-width="1.5"/>
<rect x="727.45" y="533.75" width="9.30" height="10.90" fill="#fff" stroke="#000" stroke-width="1.5"/>
<rect x="745.75" y="563.45" width="9.30" height="10.90" fill="#fff" stroke="#000" stroke-width="1.5"/>
<rect x="767.65" y="560.25" width="9.30" height="10.90" fill="#fff" stroke="#000" stroke-width="1.5"/>
<rect x="811.85" y="565.15" width="9.30" height="10.90" fill="#fff" stroke="#000" stroke-width="1.5"/>
<rect x="855.65" y="577.75" width="9.30" height="10.90" fill="#fff" stroke="#000" stroke-width="1.5"/>
<rect x="987.45" y="583.25" width="9.30" height="10.90" fill="#fff" stroke="#000" stroke-width="1.5"/>
<ellipse cx="615.90" cy="284.20" rx="6.3" ry="6.9" fill="#000"/>
<ellipse cx="644.90" cy="204.80" rx="6.3" ry="6.9" fill="#000"/>
<ellipse cx="674.10" cy="59.10" rx="6.3" ry="6.9" fill="#000"/>
<ellipse cx="732.10" cy="138.60" rx="6.3" ry="6.9" fill="#000"/>
<ellipse cx="750.40" cy="137.50" rx="6.3" ry="6.9" fill="#000"/>
<ellipse cx="772.70" cy="210.30" rx="6.3" ry="6.9" fill="#000"/>
<ellipse cx="816.30" cy="296.60" rx="6.3" ry="6.9" fill="#000"/>
<ellipse cx="860.40" cy="359.80" rx="6.3" ry="6.9" fill="#000"/>
<ellipse cx="992.60" cy="400.40" rx="6.3" ry="6.9" fill="#000"/>
<line x1="605.40" y1="280.60" x2="626.40" y2="280.60" stroke="#222" stroke-width="1.0" stroke-linecap="butt"/>
<line x1="605.40" y1="287.80" x2="626.40" y2="287.80" stroke="#222" stroke-width="1.0" stroke-linecap="butt"/>
<line x1="634.40" y1="201.20" x2="655.40" y2="201.20" stroke="#222" stroke-width="1.0" stroke-linecap="butt"/>
<line x1="634.40" y1="208.40" x2="655.40" y2="208.40" stroke="#222" stroke-width="1.0" stroke-linecap="butt"/>
<line x1="663.60" y1="55.50" x2="684.60" y2="55.50" stroke="#222" stroke-width="1.0" stroke-linecap="butt"/>
<line x1="663.60" y1="62.70" x2="684.60" y2="62.70" stroke="#222" stroke-width="1.0" stroke-linecap="butt"/>
<line x1="721.60" y1="135.00" x2="742.60" y2="135.00" stroke="#222" stroke-width="1.0" stroke-linecap="butt"/>
<line x1="721.60" y1="142.20" x2="742.60" y2="142.20" stroke="#222" stroke-width="1.0" stroke-linecap="butt"/>
<line x1="739.90" y1="133.90" x2="760.90" y2="133.90" stroke="#222" stroke-width="1.0" stroke-linecap="butt"/>
<line x1="739.90" y1="141.10" x2="760.90" y2="141.10" stroke="#222" stroke-width="1.0" stroke-linecap="butt"/>
<line x1="762.20" y1="206.70" x2="783.20" y2="206.70" stroke="#222" stroke-width="1.0" stroke-linecap="butt"/>
<line x1="762.20" y1="213.90" x2="783.20" y2="213.90" stroke="#222" stroke-width="1.0" stroke-linecap="butt"/>
<line x1="805.80" y1="293.00" x2="826.80" y2="293.00" stroke="#222" stroke-width="1.0" stroke-linecap="butt"/>
<line x1="805.80" y1="300.20" x2="826.80" y2="300.20" stroke="#222" stroke-width="1.0" stroke-linecap="butt"/>
<line x1="849.90" y1="356.20" x2="870.90" y2="356.20" stroke="#222" stroke-width="1.0" stroke-linecap="butt"/>
<line x1="849.90" y1="363.40" x2="870.90" y2="363.40" stroke="#222" stroke-width="1.0" stroke-linecap="butt"/>
<line x1="982.10" y1="396.80" x2="1003.10" y2="396.80" stroke="#222" stroke-width="1.0" stroke-linecap="butt"/>
<line x1="982.10" y1="404.00" x2="1003.10" y2="404.00" stroke="#222" stroke-width="1.0" stroke-linecap="butt"/>
<ellipse cx="615.90" cy="294.90" rx="5.55" ry="6.15" fill="#fff" stroke="#000" stroke-width="1.5"/>
<ellipse cx="644.90" cy="214.20" rx="5.55" ry="6.15" fill="#fff" stroke="#000" stroke-width="1.5"/>
<ellipse cx="674.10" cy="69.80" rx="5.55" ry="6.15" fill="#fff" stroke="#000" stroke-width="1.5"/>
<ellipse cx="732.10" cy="148.20" rx="5.55" ry="6.15" fill="#fff" stroke="#000" stroke-width="1.5"/>
<ellipse cx="750.40" cy="147.80" rx="5.55" ry="6.15" fill="#fff" stroke="#000" stroke-width="1.5"/>
<ellipse cx="772.70" cy="220.40" rx="5.55" ry="6.15" fill="#fff" stroke="#000" stroke-width="1.5"/>
<ellipse cx="816.30" cy="307.80" rx="5.55" ry="6.15" fill="#fff" stroke="#000" stroke-width="1.5"/>
<ellipse cx="860.40" cy="366.90" rx="5.55" ry="6.15" fill="#fff" stroke="#000" stroke-width="1.5"/>
<ellipse cx="992.60" cy="408.60" rx="5.55" ry="6.15" fill="#fff" stroke="#000" stroke-width="1.5"/>
<line x1="615.90" y1="291.30" x2="615.90" y2="288.00" stroke="#222" stroke-width="1.0" stroke-linecap="butt"/>
<line x1="605.40" y1="291.30" x2="626.40" y2="291.30" stroke="#222" stroke-width="1.0" stroke-linecap="butt"/>
<line x1="615.90" y1="298.50" x2="615.90" y2="301.80" stroke="#222" stroke-width="1.0" stroke-linecap="butt"/>
<line x1="605.40" y1="298.50" x2="626.40" y2="298.50" stroke="#222" stroke-width="1.0" stroke-linecap="butt"/>
<line x1="644.90" y1="210.60" x2="644.90" y2="207.30" stroke="#222" stroke-width="1.0" stroke-linecap="butt"/>
<line x1="634.40" y1="210.60" x2="655.40" y2="210.60" stroke="#222" stroke-width="1.0" stroke-linecap="butt"/>
<line x1="644.90" y1="217.80" x2="644.90" y2="221.10" stroke="#222" stroke-width="1.0" stroke-linecap="butt"/>
<line x1="634.40" y1="217.80" x2="655.40" y2="217.80" stroke="#222" stroke-width="1.0" stroke-linecap="butt"/>
<line x1="674.10" y1="66.20" x2="674.10" y2="62.90" stroke="#222" stroke-width="1.0" stroke-linecap="butt"/>
<line x1="663.60" y1="66.20" x2="684.60" y2="66.20" stroke="#222" stroke-width="1.0" stroke-linecap="butt"/>
<line x1="674.10" y1="73.40" x2="674.10" y2="76.70" stroke="#222" stroke-width="1.0" stroke-linecap="butt"/>
<line x1="663.60" y1="73.40" x2="684.60" y2="73.40" stroke="#222" stroke-width="1.0" stroke-linecap="butt"/>
<line x1="732.10" y1="144.60" x2="732.10" y2="141.30" stroke="#222" stroke-width="1.0" stroke-linecap="butt"/>
<line x1="721.60" y1="144.60" x2="742.60" y2="144.60" stroke="#222" stroke-width="1.0" stroke-linecap="butt"/>
<line x1="732.10" y1="151.80" x2="732.10" y2="155.10" stroke="#222" stroke-width="1.0" stroke-linecap="butt"/>
<line x1="721.60" y1="151.80" x2="742.60" y2="151.80" stroke="#222" stroke-width="1.0" stroke-linecap="butt"/>
<line x1="750.40" y1="144.20" x2="750.40" y2="140.90" stroke="#222" stroke-width="1.0" stroke-linecap="butt"/>
<line x1="739.90" y1="144.20" x2="760.90" y2="144.20" stroke="#222" stroke-width="1.0" stroke-linecap="butt"/>
<line x1="750.40" y1="151.40" x2="750.40" y2="154.70" stroke="#222" stroke-width="1.0" stroke-linecap="butt"/>
<line x1="739.90" y1="151.40" x2="760.90" y2="151.40" stroke="#222" stroke-width="1.0" stroke-linecap="butt"/>
<line x1="772.70" y1="216.80" x2="772.70" y2="213.50" stroke="#222" stroke-width="1.0" stroke-linecap="butt"/>
<line x1="762.20" y1="216.80" x2="783.20" y2="216.80" stroke="#222" stroke-width="1.0" stroke-linecap="butt"/>
<line x1="772.70" y1="224.00" x2="772.70" y2="227.30" stroke="#222" stroke-width="1.0" stroke-linecap="butt"/>
<line x1="762.20" y1="224.00" x2="783.20" y2="224.00" stroke="#222" stroke-width="1.0" stroke-linecap="butt"/>
<line x1="816.30" y1="304.20" x2="816.30" y2="300.90" stroke="#222" stroke-width="1.0" stroke-linecap="butt"/>
<line x1="805.80" y1="304.20" x2="826.80" y2="304.20" stroke="#222" stroke-width="1.0" stroke-linecap="butt"/>
<line x1="816.30" y1="311.40" x2="816.30" y2="314.70" stroke="#222" stroke-width="1.0" stroke-linecap="butt"/>
<line x1="805.80" y1="311.40" x2="826.80" y2="311.40" stroke="#222" stroke-width="1.0" stroke-linecap="butt"/>
<line x1="860.40" y1="363.30" x2="860.40" y2="360.00" stroke="#222" stroke-width="1.0" stroke-linecap="butt"/>
<line x1="849.90" y1="363.30" x2="870.90" y2="363.30" stroke="#222" stroke-width="1.0" stroke-linecap="butt"/>
<line x1="860.40" y1="370.50" x2="860.40" y2="373.80" stroke="#222" stroke-width="1.0" stroke-linecap="butt"/>
<line x1="849.90" y1="370.50" x2="870.90" y2="370.50" stroke="#222" stroke-width="1.0" stroke-linecap="butt"/>
<line x1="992.60" y1="405.00" x2="992.60" y2="401.70" stroke="#222" stroke-width="1.0" stroke-linecap="butt"/>
<line x1="982.10" y1="405.00" x2="1003.10" y2="405.00" stroke="#222" stroke-width="1.0" stroke-linecap="butt"/>
<line x1="992.60" y1="412.20" x2="992.60" y2="415.50" stroke="#222" stroke-width="1.0" stroke-linecap="butt"/>
<line x1="982.10" y1="412.20" x2="1003.10" y2="412.20" stroke="#222" stroke-width="1.0" stroke-linecap="butt"/>
<line x1="605.20" y1="35.90" x2="740.60" y2="35.90" stroke="#000" stroke-width="2.4" stroke-linecap="butt"/>
<line x1="749.40" y1="35.90" x2="1004.20" y2="35.90" stroke="#000" stroke-width="2.4" stroke-linecap="butt"/>
<line x1="605.20" y1="638.30" x2="740.60" y2="638.30" stroke="#000" stroke-width="2.4" stroke-linecap="butt"/>
<line x1="749.40" y1="638.30" x2="1004.20" y2="638.30" stroke="#000" stroke-width="2.4" stroke-linecap="butt"/>
<line x1="606.20" y1="34.90" x2="606.20" y2="422.00" stroke="#000" stroke-width="2.4" stroke-linecap="butt"/>
<line x1="606.20" y1="432.00" x2="606.20" y2="639.30" stroke="#000" stroke-width="2.4" stroke-linecap="butt"/>
<line x1="1003.20" y1="34.90" x2="1003.20" y2="422.00" stroke="#000" stroke-width="2.4" stroke-linecap="butt"/>
<line x1="1003.20" y1="432.00" x2="1003.20" y2="639.30" stroke="#000" stroke-width="2.4" stroke-linecap="butt"/>
<line x1="615.90" y1="638.30" x2="615.90" y2="626.40" stroke="#000" stroke-width="2.4" stroke-linecap="butt"/>
<line x1="615.90" y1="35.90" x2="615.90" y2="47.80" stroke="#000" stroke-width="2.4" stroke-linecap="butt"/>
<line x1="693.20" y1="638.30" x2="693.20" y2="626.40" stroke="#000" stroke-width="2.4" stroke-linecap="butt"/>
<line x1="693.20" y1="35.90" x2="693.20" y2="47.80" stroke="#000" stroke-width="2.4" stroke-linecap="butt"/>
<line x1="816.50" y1="638.30" x2="816.50" y2="626.40" stroke="#000" stroke-width="2.4" stroke-linecap="butt"/>
<line x1="816.50" y1="35.90" x2="816.50" y2="47.80" stroke="#000" stroke-width="2.4" stroke-linecap="butt"/>
<line x1="904.20" y1="638.30" x2="904.20" y2="626.40" stroke="#000" stroke-width="2.4" stroke-linecap="butt"/>
<line x1="904.20" y1="35.90" x2="904.20" y2="47.80" stroke="#000" stroke-width="2.4" stroke-linecap="butt"/>
<line x1="992.40" y1="638.30" x2="992.40" y2="626.40" stroke="#000" stroke-width="2.4" stroke-linecap="butt"/>
<line x1="992.40" y1="35.90" x2="992.40" y2="47.80" stroke="#000" stroke-width="2.4" stroke-linecap="butt"/>
<line x1="654.50" y1="638.30" x2="654.50" y2="632.50" stroke="#000" stroke-width="2.4" stroke-linecap="butt"/>
<line x1="654.50" y1="35.90" x2="654.50" y2="41.70" stroke="#000" stroke-width="2.4" stroke-linecap="butt"/>
<line x1="732.50" y1="638.30" x2="732.50" y2="632.50" stroke="#000" stroke-width="2.4" stroke-linecap="butt"/>
<line x1="732.50" y1="35.90" x2="732.50" y2="41.70" stroke="#000" stroke-width="2.4" stroke-linecap="butt"/>
<line x1="860.40" y1="638.30" x2="860.40" y2="632.50" stroke="#000" stroke-width="2.4" stroke-linecap="butt"/>
<line x1="860.40" y1="35.90" x2="860.40" y2="41.70" stroke="#000" stroke-width="2.4" stroke-linecap="butt"/>
<line x1="948.50" y1="638.30" x2="948.50" y2="632.50" stroke="#000" stroke-width="2.4" stroke-linecap="butt"/>
<line x1="948.50" y1="35.90" x2="948.50" y2="41.70" stroke="#000" stroke-width="2.4" stroke-linecap="butt"/>
<line x1="606.20" y1="128.40" x2="616.50" y2="128.40" stroke="#000" stroke-width="2.4" stroke-linecap="butt"/>
<line x1="1003.20" y1="128.40" x2="992.90" y2="128.40" stroke="#000" stroke-width="2.4" stroke-linecap="butt"/>
<line x1="606.20" y1="267.20" x2="616.50" y2="267.20" stroke="#000" stroke-width="2.4" stroke-linecap="butt"/>
<line x1="1003.20" y1="267.20" x2="992.90" y2="267.20" stroke="#000" stroke-width="2.4" stroke-linecap="butt"/>
<line x1="606.20" y1="406.20" x2="616.50" y2="406.20" stroke="#000" stroke-width="2.4" stroke-linecap="butt"/>
<line x1="1003.20" y1="406.20" x2="992.90" y2="406.20" stroke="#000" stroke-width="2.4" stroke-linecap="butt"/>
<line x1="606.20" y1="556.20" x2="616.50" y2="556.20" stroke="#000" stroke-width="2.4" stroke-linecap="butt"/>
<line x1="1003.20" y1="556.20" x2="992.90" y2="556.20" stroke="#000" stroke-width="2.4" stroke-linecap="butt"/>
<line x1="606.20" y1="59.10" x2="611.60" y2="59.10" stroke="#000" stroke-width="2.4" stroke-linecap="butt"/>
<line x1="1003.20" y1="59.10" x2="997.80" y2="59.10" stroke="#000" stroke-width="2.4" stroke-linecap="butt"/>
<line x1="606.20" y1="198.00" x2="611.60" y2="198.00" stroke="#000" stroke-width="2.4" stroke-linecap="butt"/>
<line x1="1003.20" y1="198.00" x2="997.80" y2="198.00" stroke="#000" stroke-width="2.4" stroke-linecap="butt"/>
<line x1="606.20" y1="487.80" x2="611.60" y2="487.80" stroke="#000" stroke-width="2.4" stroke-linecap="butt"/>
<line x1="1003.20" y1="487.80" x2="997.80" y2="487.80" stroke="#000" stroke-width="2.4" stroke-linecap="butt"/>
<line x1="606.20" y1="624.60" x2="611.60" y2="624.60" stroke="#000" stroke-width="2.4" stroke-linecap="butt"/>
<line x1="1003.20" y1="624.60" x2="997.80" y2="624.60" stroke="#000" stroke-width="2.4" stroke-linecap="butt"/>
<line x1="595.90" y1="427.10" x2="616.50" y2="416.90" stroke="#000" stroke-width="2.4" stroke-linecap="butt"/>
<line x1="595.90" y1="437.10" x2="616.50" y2="426.90" stroke="#000" stroke-width="2.4" stroke-linecap="butt"/>
<line x1="992.90" y1="427.10" x2="1013.50" y2="416.90" stroke="#000" stroke-width="2.4" stroke-linecap="butt"/>
<line x1="992.90" y1="437.10" x2="1013.50" y2="426.90" stroke="#000" stroke-width="2.4" stroke-linecap="butt"/>
<line x1="738.15" y1="47.90" x2="744.95" y2="23.90" stroke="#000" stroke-width="2.4" stroke-linecap="butt"/>
<line x1="745.05" y1="47.90" x2="751.85" y2="23.90" stroke="#000" stroke-width="2.4" stroke-linecap="butt"/>
<line x1="738.15" y1="650.30" x2="744.95" y2="626.30" stroke="#000" stroke-width="2.4" stroke-linecap="butt"/>
<line x1="745.05" y1="650.30" x2="751.85" y2="626.30" stroke="#000" stroke-width="2.4" stroke-linecap="butt"/>
<text x="564.42" y="138.95" font-size="25.5" textLength="41.49" lengthAdjust="spacingAndGlyphs">18.0</text>
<text x="564.44" y="278.95" font-size="25.5" textLength="41.08" lengthAdjust="spacingAndGlyphs">13.5</text>
<text x="573.01" y="417.15" font-size="25.5" textLength="30.73" lengthAdjust="spacingAndGlyphs">9.0</text>
<text x="586.35" y="566.05" font-size="25.5" textLength="11.51" lengthAdjust="spacingAndGlyphs">4</text>
<text x="610.69" y="672.40" font-size="25.5" textLength="13.21" lengthAdjust="spacingAndGlyphs">0</text>
<text x="689.19" y="672.40" font-size="25.5" textLength="11.72" lengthAdjust="spacingAndGlyphs">4</text>
<text x="807.72" y="672.40" font-size="25.5" textLength="24.41" lengthAdjust="spacingAndGlyphs">48</text>
<text x="895.41" y="672.40" font-size="25.5" textLength="24.52" lengthAdjust="spacingAndGlyphs">96</text>
<text x="980.17" y="672.40" font-size="25.5" textLength="35.55" lengthAdjust="spacingAndGlyphs">144</text>
<text x="674.24" y="712.80" font-size="26.3" textLength="256.23" lengthAdjust="spacingAndGlyphs">Post-irradiation time (h)</text>
<text transform="translate(553.30,464.97) rotate(-90)" x="0" y="0" font-size="26.4" textLength="256.84" lengthAdjust="spacingAndGlyphs">MDA (nM)/mg protein)</text>
<text x="606.30" y="26.50" font-size="27.5">b</text>
<polyline points="93.30,1023.10 122.30,943.70 151.30,781.60 209.30,861.50 227.60,880.40 249.30,927.80 292.80,1056.50 337.30,1137.00 468.50,1170.80" fill="none" stroke="#000" stroke-width="2.2" stroke-linejoin="miter"/>
<polyline points="93.30,1031.70 122.30,952.20 151.30,791.70 209.30,870.70 227.60,889.40 249.30,935.00 292.80,1062.80 337.30,1140.30 468.50,1174.00" fill="none" stroke="#000" stroke-width="2.2" stroke-linejoin="miter"/>
<polyline points="93.30,1275.40 122.30,1233.00 151.30,1204.00 209.30,1227.70 227.60,1255.60 249.50,1246.00 293.50,1261.50 337.30,1268.30 468.60,1271.30" fill="none" stroke="#000" stroke-width="2.2" stroke-linejoin="miter"/>
<polyline points="93.30,1333.00 122.30,1302.20 151.30,1262.70 209.30,1284.20 227.60,1308.20 249.50,1299.20 293.50,1306.50 337.30,1319.40 468.60,1321.00" fill="none" stroke="#000" stroke-width="2.2" stroke-linejoin="miter"/>
<line x1="93.30" y1="1265.70" x2="93.30" y2="1285.70" stroke="#222" stroke-width="1.0" stroke-linecap="butt"/>
<line x1="122.30" y1="1222.70" x2="122.30" y2="1243.40" stroke="#222" stroke-width="1.0" stroke-linecap="butt"/>
<line x1="151.30" y1="1193.70" x2="151.30" y2="1213.70" stroke="#222" stroke-width="1.0" stroke-linecap="butt"/>
<line x1="209.30" y1="1218.40" x2="209.30" y2="1236.70" stroke="#222" stroke-width="1.0" stroke-linecap="butt"/>
<line x1="227.60" y1="1245.50" x2="227.60" y2="1265.30" stroke="#222" stroke-width="1.0" stroke-linecap="butt"/>
<line x1="249.50" y1="1235.60" x2="249.50" y2="1256.70" stroke="#222" stroke-width="1.0" stroke-linecap="butt"/>
<line x1="293.50" y1="1251.40" x2="293.50" y2="1272.00" stroke="#222" stroke-width="1.0" stroke-linecap="butt"/>
<line x1="337.30" y1="1257.70" x2="337.30" y2="1278.40" stroke="#222" stroke-width="1.0" stroke-linecap="butt"/>
<line x1="468.60" y1="1261.20" x2="468.60" y2="1281.40" stroke="#222" stroke-width="1.0" stroke-linecap="butt"/>
<line x1="82.80" y1="1265.70" x2="103.80" y2="1265.70" stroke="#222" stroke-width="1.0" stroke-linecap="butt"/>
<line x1="82.80" y1="1285.70" x2="103.80" y2="1285.70" stroke="#222" stroke-width="1.0" stroke-linecap="butt"/>
<line x1="111.80" y1="1222.70" x2="132.80" y2="1222.70" stroke="#222" stroke-width="1.0" stroke-linecap="butt"/>
<line x1="111.80" y1="1243.40" x2="132.80" y2="1243.40" stroke="#222" stroke-width="1.0" stroke-linecap="butt"/>
<line x1="140.80" y1="1193.70" x2="161.80" y2="1193.70" stroke="#222" stroke-width="1.0" stroke-linecap="butt"/>
<line x1="140.80" y1="1213.70" x2="161.80" y2="1213.70" stroke="#222" stroke-width="1.0" stroke-linecap="butt"/>
<line x1="198.80" y1="1218.40" x2="219.80" y2="1218.40" stroke="#222" stroke-width="1.0" stroke-linecap="butt"/>
<line x1="198.80" y1="1236.70" x2="219.80" y2="1236.70" stroke="#222" stroke-width="1.0" stroke-linecap="butt"/>
<line x1="217.10" y1="1245.50" x2="238.10" y2="1245.50" stroke="#222" stroke-width="1.0" stroke-linecap="butt"/>
<line x1="217.10" y1="1265.30" x2="238.10" y2="1265.30" stroke="#222" stroke-width="1.0" stroke-linecap="butt"/>
<line x1="239.00" y1="1235.60" x2="260.00" y2="1235.60" stroke="#222" stroke-width="1.0" stroke-linecap="butt"/>
<line x1="239.00" y1="1256.70" x2="260.00" y2="1256.70" stroke="#222" stroke-width="1.0" stroke-linecap="butt"/>
<line x1="283.00" y1="1251.40" x2="304.00" y2="1251.40" stroke="#222" stroke-width="1.0" stroke-linecap="butt"/>
<line x1="283.00" y1="1272.00" x2="304.00" y2="1272.00" stroke="#222" stroke-width="1.0" stroke-linecap="butt"/>
<line x1="326.80" y1="1257.70" x2="347.80" y2="1257.70" stroke="#222" stroke-width="1.0" stroke-linecap="butt"/>
<line x1="326.80" y1="1278.40" x2="347.80" y2="1278.40" stroke="#222" stroke-width="1.0" stroke-linecap="butt"/>
<line x1="458.10" y1="1261.20" x2="479.10" y2="1261.20" stroke="#222" stroke-width="1.0" stroke-linecap="butt"/>
<line x1="458.10" y1="1281.40" x2="479.10" y2="1281.40" stroke="#222" stroke-width="1.0" stroke-linecap="butt"/>
<rect x="87.90" y="1269.20" width="10.8" height="12.4" fill="#000"/>
<rect x="116.90" y="1226.80" width="10.8" height="12.4" fill="#000"/>
<rect x="145.90" y="1197.80" width="10.8" height="12.4" fill="#000"/>
<rect x="203.90" y="1221.50" width="10.8" height="12.4" fill="#000"/>
<rect x="222.20" y="1249.40" width="10.8" height="12.4" fill="#000"/>
<rect x="244.10" y="1239.80" width="10.8" height="12.4" fill="#000"/>
<rect x="288.10" y="1255.30" width="10.8" height="12.4" fill="#000"/>
<rect x="331.90" y="1262.10" width="10.8" height="12.4" fill="#000"/>
<rect x="463.20" y="1265.10" width="10.8" height="12.4" fill="#000"/>
<line x1="93.30" y1="1323.30" x2="93.30" y2="1343.30" stroke="#222" stroke-width="1.0" stroke-linecap="butt"/>
<line x1="122.30" y1="1292.60" x2="122.30" y2="1313.00" stroke="#222" stroke-width="1.0" stroke-linecap="butt"/>
<line x1="151.30" y1="1253.00" x2="151.30" y2="1272.80" stroke="#222" stroke-width="1.0" stroke-linecap="butt"/>
<line x1="209.30" y1="1275.40" x2="209.30" y2="1293.60" stroke="#222" stroke-width="1.0" stroke-linecap="butt"/>
<line x1="227.60" y1="1298.60" x2="227.60" y2="1317.90" stroke="#222" stroke-width="1.0" stroke-linecap="butt"/>
<line x1="249.50" y1="1289.30" x2="249.50" y2="1309.30" stroke="#222" stroke-width="1.0" stroke-linecap="butt"/>
<line x1="293.50" y1="1296.60" x2="293.50" y2="1316.60" stroke="#222" stroke-width="1.0" stroke-linecap="butt"/>
<line x1="337.30" y1="1308.80" x2="337.30" y2="1329.20" stroke="#222" stroke-width="1.0" stroke-linecap="butt"/>
<line x1="468.60" y1="1310.70" x2="468.60" y2="1331.10" stroke="#222" stroke-width="1.0" stroke-linecap="butt"/>
<line x1="82.80" y1="1323.30" x2="103.80" y2="1323.30" stroke="#222" stroke-width="1.0" stroke-linecap="butt"/>
<line x1="82.80" y1="1343.30" x2="103.80" y2="1343.30" stroke="#222" stroke-width="1.0" stroke-linecap="butt"/>
<line x1="111.80" y1="1292.60" x2="132.80" y2="1292.60" stroke="#222" stroke-width="1.0" stroke-linecap="butt"/>
<line x1="111.80" y1="1313.00" x2="132.80" y2="1313.00" stroke="#222" stroke-width="1.0" stroke-linecap="butt"/>
<line x1="140.80" y1="1253.00" x2="161.80" y2="1253.00" stroke="#222" stroke-width="1.0" stroke-linecap="butt"/>
<line x1="140.80" y1="1272.80" x2="161.80" y2="1272.80" stroke="#222" stroke-width="1.0" stroke-linecap="butt"/>
<line x1="198.80" y1="1275.40" x2="219.80" y2="1275.40" stroke="#222" stroke-width="1.0" stroke-linecap="butt"/>
<line x1="198.80" y1="1293.60" x2="219.80" y2="1293.60" stroke="#222" stroke-width="1.0" stroke-linecap="butt"/>
<line x1="217.10" y1="1298.60" x2="238.10" y2="1298.60" stroke="#222" stroke-width="1.0" stroke-linecap="butt"/>
<line x1="217.10" y1="1317.90" x2="238.10" y2="1317.90" stroke="#222" stroke-width="1.0" stroke-linecap="butt"/>
<line x1="239.00" y1="1289.30" x2="260.00" y2="1289.30" stroke="#222" stroke-width="1.0" stroke-linecap="butt"/>
<line x1="239.00" y1="1309.30" x2="260.00" y2="1309.30" stroke="#222" stroke-width="1.0" stroke-linecap="butt"/>
<line x1="283.00" y1="1296.60" x2="304.00" y2="1296.60" stroke="#222" stroke-width="1.0" stroke-linecap="butt"/>
<line x1="283.00" y1="1316.60" x2="304.00" y2="1316.60" stroke="#222" stroke-width="1.0" stroke-linecap="butt"/>
<line x1="326.80" y1="1308.80" x2="347.80" y2="1308.80" stroke="#222" stroke-width="1.0" stroke-linecap="butt"/>
<line x1="326.80" y1="1329.20" x2="347.80" y2="1329.20" stroke="#222" stroke-width="1.0" stroke-linecap="butt"/>
<line x1="458.10" y1="1310.70" x2="479.10" y2="1310.70" stroke="#222" stroke-width="1.0" stroke-linecap="butt"/>
<line x1="458.10" y1="1331.10" x2="479.10" y2="1331.10" stroke="#222" stroke-width="1.0" stroke-linecap="butt"/>
<rect x="88.65" y="1327.55" width="9.30" height="10.90" fill="#fff" stroke="#000" stroke-width="1.5"/>
<rect x="117.65" y="1296.75" width="9.30" height="10.90" fill="#fff" stroke="#000" stroke-width="1.5"/>
<rect x="146.65" y="1257.25" width="9.30" height="10.90" fill="#fff" stroke="#000" stroke-width="1.5"/>
<rect x="204.65" y="1278.75" width="9.30" height="10.90" fill="#fff" stroke="#000" stroke-width="1.5"/>
<rect x="222.95" y="1302.75" width="9.30" height="10.90" fill="#fff" stroke="#000" stroke-width="1.5"/>
<rect x="244.85" y="1293.75" width="9.30" height="10.90" fill="#fff" stroke="#000" stroke-width="1.5"/>
<rect x="288.85" y="1301.05" width="9.30" height="10.90" fill="#fff" stroke="#000" stroke-width="1.5"/>
<rect x="332.65" y="1313.95" width="9.30" height="10.90" fill="#fff" stroke="#000" stroke-width="1.5"/>
<rect x="463.95" y="1315.55" width="9.30" height="10.90" fill="#fff" stroke="#000" stroke-width="1.5"/>
<ellipse cx="93.30" cy="1023.10" rx="6.3" ry="6.9" fill="#000"/>
<ellipse cx="122.30" cy="943.70" rx="6.3" ry="6.9" fill="#000"/>
<ellipse cx="151.30" cy="781.60" rx="6.3" ry="6.9" fill="#000"/>
<ellipse cx="209.30" cy="861.50" rx="6.3" ry="6.9" fill="#000"/>
<ellipse cx="227.60" cy="880.40" rx="6.3" ry="6.9" fill="#000"/>
<ellipse cx="249.30" cy="927.80" rx="6.3" ry="6.9" fill="#000"/>
<ellipse cx="292.80" cy="1056.50" rx="6.3" ry="6.9" fill="#000"/>
<ellipse cx="337.30" cy="1137.00" rx="6.3" ry="6.9" fill="#000"/>
<ellipse cx="468.50" cy="1170.80" rx="6.3" ry="6.9" fill="#000"/>
<line x1="82.80" y1="1019.50" x2="103.80" y2="1019.50" stroke="#222" stroke-width="1.0" stroke-linecap="butt"/>
<line x1="82.80" y1="1026.70" x2="103.80" y2="1026.70" stroke="#222" stroke-width="1.0" stroke-linecap="butt"/>
<line x1="111.80" y1="940.10" x2="132.80" y2="940.10" stroke="#222" stroke-width="1.0" stroke-linecap="butt"/>
<line x1="111.80" y1="947.30" x2="132.80" y2="947.30" stroke="#222" stroke-width="1.0" stroke-linecap="butt"/>
<line x1="140.80" y1="778.00" x2="161.80" y2="778.00" stroke="#222" stroke-width="1.0" stroke-linecap="butt"/>
<line x1="140.80" y1="785.20" x2="161.80" y2="785.20" stroke="#222" stroke-width="1.0" stroke-linecap="butt"/>
<line x1="198.80" y1="857.90" x2="219.80" y2="857.90" stroke="#222" stroke-width="1.0" stroke-linecap="butt"/>
<line x1="198.80" y1="865.10" x2="219.80" y2="865.10" stroke="#222" stroke-width="1.0" stroke-linecap="butt"/>
<line x1="217.10" y1="876.80" x2="238.10" y2="876.80" stroke="#222" stroke-width="1.0" stroke-linecap="butt"/>
<line x1="217.10" y1="884.00" x2="238.10" y2="884.00" stroke="#222" stroke-width="1.0" stroke-linecap="butt"/>
<line x1="238.80" y1="924.20" x2="259.80" y2="924.20" stroke="#222" stroke-width="1.0" stroke-linecap="butt"/>
<line x1="238.80" y1="931.40" x2="259.80" y2="931.40" stroke="#222" stroke-width="1.0" stroke-linecap="butt"/>
<line x1="282.30" y1="1052.90" x2="303.30" y2="1052.90" stroke="#222" stroke-width="1.0" stroke-linecap="butt"/>
<line x1="282.30" y1="1060.10" x2="303.30" y2="1060.10" stroke="#222" stroke-width="1.0" stroke-linecap="butt"/>
<line x1="326.80" y1="1133.40" x2="347.80" y2="1133.40" stroke="#222" stroke-width="1.0" stroke-linecap="butt"/>
<line x1="326.80" y1="1140.60" x2="347.80" y2="1140.60" stroke="#222" stroke-width="1.0" stroke-linecap="butt"/>
<line x1="458.00" y1="1167.20" x2="479.00" y2="1167.20" stroke="#222" stroke-width="1.0" stroke-linecap="butt"/>
<line x1="458.00" y1="1174.40" x2="479.00" y2="1174.40" stroke="#222" stroke-width="1.0" stroke-linecap="butt"/>
<ellipse cx="93.30" cy="1031.70" rx="5.55" ry="6.15" fill="#fff" stroke="#000" stroke-width="1.5"/>
<ellipse cx="122.30" cy="952.20" rx="5.55" ry="6.15" fill="#fff" stroke="#000" stroke-width="1.5"/>
<ellipse cx="151.30" cy="791.70" rx="5.55" ry="6.15" fill="#fff" stroke="#000" stroke-width="1.5"/>
<ellipse cx="209.30" cy="870.70" rx="5.55" ry="6.15" fill="#fff" stroke="#000" stroke-width="1.5"/>
<ellipse cx="227.60" cy="889.40" rx="5.55" ry="6.15" fill="#fff" stroke="#000" stroke-width="1.5"/>
<ellipse cx="249.30" cy="935.00" rx="5.55" ry="6.15" fill="#fff" stroke="#000" stroke-width="1.5"/>
<ellipse cx="292.80" cy="1062.80" rx="5.55" ry="6.15" fill="#fff" stroke="#000" stroke-width="1.5"/>
<ellipse cx="337.30" cy="1140.30" rx="5.55" ry="6.15" fill="#fff" stroke="#000" stroke-width="1.5"/>
<ellipse cx="468.50" cy="1174.00" rx="5.55" ry="6.15" fill="#fff" stroke="#000" stroke-width="1.5"/>
<line x1="93.30" y1="1028.10" x2="93.30" y2="1024.80" stroke="#222" stroke-width="1.0" stroke-linecap="butt"/>
<line x1="82.80" y1="1028.10" x2="103.80" y2="1028.10" stroke="#222" stroke-width="1.0" stroke-linecap="butt"/>
<line x1="93.30" y1="1035.30" x2="93.30" y2="1038.60" stroke="#222" stroke-width="1.0" stroke-linecap="butt"/>
<line x1="82.80" y1="1035.30" x2="103.80" y2="1035.30" stroke="#222" stroke-width="1.0" stroke-linecap="butt"/>
<line x1="122.30" y1="948.60" x2="122.30" y2="945.30" stroke="#222" stroke-width="1.0" stroke-linecap="butt"/>
<line x1="111.80" y1="948.60" x2="132.80" y2="948.60" stroke="#222" stroke-width="1.0" stroke-linecap="butt"/>
<line x1="122.30" y1="955.80" x2="122.30" y2="959.10" stroke="#222" stroke-width="1.0" stroke-linecap="butt"/>
<line x1="111.80" y1="955.80" x2="132.80" y2="955.80" stroke="#222" stroke-width="1.0" stroke-linecap="butt"/>
<line x1="151.30" y1="788.10" x2="151.30" y2="784.80" stroke="#222" stroke-width="1.0" stroke-linecap="butt"/>
<line x1="140.80" y1="788.10" x2="161.80" y2="788.10" stroke="#222" stroke-width="1.0" stroke-linecap="butt"/>
<line x1="151.30" y1="795.30" x2="151.30" y2="798.60" stroke="#222" stroke-width="1.0" stroke-linecap="butt"/>
<line x1="140.80" y1="795.30" x2="161.80" y2="795.30" stroke="#222" stroke-width="1.0" stroke-linecap="butt"/>
<line x1="209.30" y1="867.10" x2="209.30" y2="863.80" stroke="#222" stroke-width="1.0" stroke-linecap="butt"/>
<line x1="198.80" y1="867.10" x2="219.80" y2="867.10" stroke="#222" stroke-width="1.0" stroke-linecap="butt"/>
<line x1="209.30" y1="874.30" x2="209.30" y2="877.60" stroke="#222" stroke-width="1.0" stroke-linecap="butt"/>
<line x1="198.80" y1="874.30" x2="219.80" y2="874.30" stroke="#222" stroke-width="1.0" stroke-linecap="butt"/>
<line x1="227.60" y1="885.80" x2="227.60" y2="882.50" stroke="#222" stroke-width="1.0" stroke-linecap="butt"/>
<line x1="217.10" y1="885.80" x2="238.10" y2="885.80" stroke="#222" stroke-width="1.0" stroke-linecap="butt"/>
<line x1="227.60" y1="893.00" x2="227.60" y2="896.30" stroke="#222" stroke-width="1.0" stroke-linecap="butt"/>
<line x1="217.10" y1="893.00" x2="238.10" y2="893.00" stroke="#222" stroke-width="1.0" stroke-linecap="butt"/>
<line x1="249.30" y1="931.40" x2="249.30" y2="928.10" stroke="#222" stroke-width="1.0" stroke-linecap="butt"/>
<line x1="238.80" y1="931.40" x2="259.80" y2="931.40" stroke="#222" stroke-width="1.0" stroke-linecap="butt"/>
<line x1="249.30" y1="938.60" x2="249.30" y2="941.90" stroke="#222" stroke-width="1.0" stroke-linecap="butt"/>
<line x1="238.80" y1="938.60" x2="259.80" y2="938.60" stroke="#222" stroke-width="1.0" stroke-linecap="butt"/>
<line x1="292.80" y1="1059.20" x2="292.80" y2="1055.90" stroke="#222" stroke-width="1.0" stroke-linecap="butt"/>
<line x1="282.30" y1="1059.20" x2="303.30" y2="1059.20" stroke="#222" stroke-width="1.0" stroke-linecap="butt"/>
<line x1="292.80" y1="1066.40" x2="292.80" y2="1069.70" stroke="#222" stroke-width="1.0" stroke-linecap="butt"/>
<line x1="282.30" y1="1066.40" x2="303.30" y2="1066.40" stroke="#222" stroke-width="1.0" stroke-linecap="butt"/>
<line x1="337.30" y1="1136.70" x2="337.30" y2="1133.40" stroke="#222" stroke-width="1.0" stroke-linecap="butt"/>
<line x1="326.80" y1="1136.70" x2="347.80" y2="1136.70" stroke="#222" stroke-width="1.0" stroke-linecap="butt"/>
<line x1="337.30" y1="1143.90" x2="337.30" y2="1147.20" stroke="#222" stroke-width="1.0" stroke-linecap="butt"/>
<line x1="326.80" y1="1143.90" x2="347.80" y2="1143.90" stroke="#222" stroke-width="1.0" stroke-linecap="butt"/>
<line x1="468.50" y1="1170.40" x2="468.50" y2="1167.10" stroke="#222" stroke-width="1.0" stroke-linecap="butt"/>
<line x1="458.00" y1="1170.40" x2="479.00" y2="1170.40" stroke="#222" stroke-width="1.0" stroke-linecap="butt"/>
<line x1="468.50" y1="1177.60" x2="468.50" y2="1180.90" stroke="#222" stroke-width="1.0" stroke-linecap="butt"/>
<line x1="458.00" y1="1177.60" x2="479.00" y2="1177.60" stroke="#222" stroke-width="1.0" stroke-linecap="butt"/>
<line x1="82.90" y1="763.30" x2="217.90" y2="763.30" stroke="#000" stroke-width="2.4" stroke-linecap="butt"/>
<line x1="226.70" y1="763.30" x2="480.80" y2="763.30" stroke="#000" stroke-width="2.4" stroke-linecap="butt"/>
<line x1="82.90" y1="1367.10" x2="217.90" y2="1367.10" stroke="#000" stroke-width="2.4" stroke-linecap="butt"/>
<line x1="226.70" y1="1367.10" x2="480.80" y2="1367.10" stroke="#000" stroke-width="2.4" stroke-linecap="butt"/>
<line x1="83.90" y1="762.30" x2="83.90" y2="1180.50" stroke="#000" stroke-width="2.4" stroke-linecap="butt"/>
<line x1="83.90" y1="1190.50" x2="83.90" y2="1368.10" stroke="#000" stroke-width="2.4" stroke-linecap="butt"/>
<line x1="479.80" y1="762.30" x2="479.80" y2="1180.50" stroke="#000" stroke-width="2.4" stroke-linecap="butt"/>
<line x1="479.80" y1="1190.50" x2="479.80" y2="1368.10" stroke="#000" stroke-width="2.4" stroke-linecap="butt"/>
<line x1="93.30" y1="1367.10" x2="93.30" y2="1355.20" stroke="#000" stroke-width="2.4" stroke-linecap="butt"/>
<line x1="93.30" y1="763.30" x2="93.30" y2="775.20" stroke="#000" stroke-width="2.4" stroke-linecap="butt"/>
<line x1="171.10" y1="1367.10" x2="171.10" y2="1355.20" stroke="#000" stroke-width="2.4" stroke-linecap="butt"/>
<line x1="171.10" y1="763.30" x2="171.10" y2="775.20" stroke="#000" stroke-width="2.4" stroke-linecap="butt"/>
<line x1="293.50" y1="1367.10" x2="293.50" y2="1355.20" stroke="#000" stroke-width="2.4" stroke-linecap="butt"/>
<line x1="293.50" y1="763.30" x2="293.50" y2="775.20" stroke="#000" stroke-width="2.4" stroke-linecap="butt"/>
<line x1="381.20" y1="1367.10" x2="381.20" y2="1355.20" stroke="#000" stroke-width="2.4" stroke-linecap="butt"/>
<line x1="381.20" y1="763.30" x2="381.20" y2="775.20" stroke="#000" stroke-width="2.4" stroke-linecap="butt"/>
<line x1="468.30" y1="1367.10" x2="468.30" y2="1355.20" stroke="#000" stroke-width="2.4" stroke-linecap="butt"/>
<line x1="468.30" y1="763.30" x2="468.30" y2="775.20" stroke="#000" stroke-width="2.4" stroke-linecap="butt"/>
<line x1="132.00" y1="1367.10" x2="132.00" y2="1361.30" stroke="#000" stroke-width="2.4" stroke-linecap="butt"/>
<line x1="132.00" y1="763.30" x2="132.00" y2="769.10" stroke="#000" stroke-width="2.4" stroke-linecap="butt"/>
<line x1="209.30" y1="1367.10" x2="209.30" y2="1361.30" stroke="#000" stroke-width="2.4" stroke-linecap="butt"/>
<line x1="209.30" y1="763.30" x2="209.30" y2="769.10" stroke="#000" stroke-width="2.4" stroke-linecap="butt"/>
<line x1="336.90" y1="1367.10" x2="336.90" y2="1361.30" stroke="#000" stroke-width="2.4" stroke-linecap="butt"/>
<line x1="336.90" y1="763.30" x2="336.90" y2="769.10" stroke="#000" stroke-width="2.4" stroke-linecap="butt"/>
<line x1="425.20" y1="1367.10" x2="425.20" y2="1361.30" stroke="#000" stroke-width="2.4" stroke-linecap="butt"/>
<line x1="425.20" y1="763.30" x2="425.20" y2="769.10" stroke="#000" stroke-width="2.4" stroke-linecap="butt"/>
<line x1="83.90" y1="848.80" x2="94.20" y2="848.80" stroke="#000" stroke-width="2.4" stroke-linecap="butt"/>
<line x1="479.80" y1="848.80" x2="469.50" y2="848.80" stroke="#000" stroke-width="2.4" stroke-linecap="butt"/>
<line x1="83.90" y1="948.00" x2="94.20" y2="948.00" stroke="#000" stroke-width="2.4" stroke-linecap="butt"/>
<line x1="479.80" y1="948.00" x2="469.50" y2="948.00" stroke="#000" stroke-width="2.4" stroke-linecap="butt"/>
<line x1="83.90" y1="1047.60" x2="94.20" y2="1047.60" stroke="#000" stroke-width="2.4" stroke-linecap="butt"/>
<line x1="479.80" y1="1047.60" x2="469.50" y2="1047.60" stroke="#000" stroke-width="2.4" stroke-linecap="butt"/>
<line x1="83.90" y1="1146.50" x2="94.20" y2="1146.50" stroke="#000" stroke-width="2.4" stroke-linecap="butt"/>
<line x1="479.80" y1="1146.50" x2="469.50" y2="1146.50" stroke="#000" stroke-width="2.4" stroke-linecap="butt"/>
<line x1="83.90" y1="1229.60" x2="94.20" y2="1229.60" stroke="#000" stroke-width="2.4" stroke-linecap="butt"/>
<line x1="479.80" y1="1229.60" x2="469.50" y2="1229.60" stroke="#000" stroke-width="2.4" stroke-linecap="butt"/>
<line x1="83.90" y1="1311.90" x2="94.20" y2="1311.90" stroke="#000" stroke-width="2.4" stroke-linecap="butt"/>
<line x1="479.80" y1="1311.90" x2="469.50" y2="1311.90" stroke="#000" stroke-width="2.4" stroke-linecap="butt"/>
<line x1="83.90" y1="798.80" x2="89.30" y2="798.80" stroke="#000" stroke-width="2.4" stroke-linecap="butt"/>
<line x1="479.80" y1="798.80" x2="474.40" y2="798.80" stroke="#000" stroke-width="2.4" stroke-linecap="butt"/>
<line x1="83.90" y1="898.50" x2="89.30" y2="898.50" stroke="#000" stroke-width="2.4" stroke-linecap="butt"/>
<line x1="479.80" y1="898.50" x2="474.40" y2="898.50" stroke="#000" stroke-width="2.4" stroke-linecap="butt"/>
<line x1="83.90" y1="997.60" x2="89.30" y2="997.60" stroke="#000" stroke-width="2.4" stroke-linecap="butt"/>
<line x1="479.80" y1="997.60" x2="474.40" y2="997.60" stroke="#000" stroke-width="2.4" stroke-linecap="butt"/>
<line x1="83.90" y1="1270.70" x2="89.30" y2="1270.70" stroke="#000" stroke-width="2.4" stroke-linecap="butt"/>
<line x1="479.80" y1="1270.70" x2="474.40" y2="1270.70" stroke="#000" stroke-width="2.4" stroke-linecap="butt"/>
<line x1="83.90" y1="1353.70" x2="89.30" y2="1353.70" stroke="#000" stroke-width="2.4" stroke-linecap="butt"/>
<line x1="479.80" y1="1353.70" x2="474.40" y2="1353.70" stroke="#000" stroke-width="2.4" stroke-linecap="butt"/>
<line x1="73.60" y1="1185.60" x2="94.20" y2="1175.40" stroke="#000" stroke-width="2.4" stroke-linecap="butt"/>
<line x1="73.60" y1="1195.60" x2="94.20" y2="1185.40" stroke="#000" stroke-width="2.4" stroke-linecap="butt"/>
<line x1="469.50" y1="1185.60" x2="490.10" y2="1175.40" stroke="#000" stroke-width="2.4" stroke-linecap="butt"/>
<line x1="469.50" y1="1195.60" x2="490.10" y2="1185.40" stroke="#000" stroke-width="2.4" stroke-linecap="butt"/>
<line x1="215.45" y1="775.30" x2="222.25" y2="751.30" stroke="#000" stroke-width="2.4" stroke-linecap="butt"/>
<line x1="222.35" y1="775.30" x2="229.15" y2="751.30" stroke="#000" stroke-width="2.4" stroke-linecap="butt"/>
<line x1="215.45" y1="1379.10" x2="222.25" y2="1355.10" stroke="#000" stroke-width="2.4" stroke-linecap="butt"/>
<line x1="222.35" y1="1379.10" x2="229.15" y2="1355.10" stroke="#000" stroke-width="2.4" stroke-linecap="butt"/>
<text x="41.95" y="859.15" font-size="25.5" textLength="41.78" lengthAdjust="spacingAndGlyphs">24.5</text>
<text x="41.95" y="958.25" font-size="25.5" textLength="41.76" lengthAdjust="spacingAndGlyphs">21.0</text>
<text x="40.84" y="1058.05" font-size="25.5" textLength="42.91" lengthAdjust="spacingAndGlyphs">17.5</text>
<text x="40.85" y="1156.95" font-size="25.5" textLength="42.89" lengthAdjust="spacingAndGlyphs">14.0</text>
<text x="42.64" y="1239.95" font-size="25.5" textLength="41.05" lengthAdjust="spacingAndGlyphs">4.50</text>
<text x="41.96" y="1322.85" font-size="25.5" textLength="41.77" lengthAdjust="spacingAndGlyphs">3.75</text>
<text x="88.65" y="1400.60" font-size="24.5" textLength="13.09" lengthAdjust="spacingAndGlyphs">0</text>
<text x="166.53" y="1400.60" font-size="24.5" textLength="12.05" lengthAdjust="spacingAndGlyphs">4</text>
<text x="284.88" y="1400.60" font-size="24.5" textLength="23.88" lengthAdjust="spacingAndGlyphs">48</text>
<text x="372.00" y="1400.60" font-size="24.5" textLength="24.73" lengthAdjust="spacingAndGlyphs">96</text>
<text x="456.74" y="1400.60" font-size="24.5" textLength="35.23" lengthAdjust="spacingAndGlyphs">144</text>
<text x="149.53" y="1443.70" font-size="27.2" textLength="258.24" lengthAdjust="spacingAndGlyphs">Post-irradiation time (h)</text>
<text transform="translate(29.30,1189.86) rotate(-90)" x="0" y="0" font-size="26.4" textLength="255.03" lengthAdjust="spacingAndGlyphs">MDA (nM)/mg protein)</text>
<text x="82.57" y="752.30" font-size="27.0">c</text>
<clipPath id="cd"><rect x="602.3" y="765.1" width="394.20000000000005" height="597.9999999999999"/></clipPath>
<g clip-path="url(#cd)">
<line x1="602.30" y1="1137.50" x2="996.50" y2="768.10" stroke="#000" stroke-width="1.5" stroke-linecap="butt"/>
<line x1="602.30" y1="1146.90" x2="996.50" y2="778.80" stroke="#000" stroke-width="1.5" stroke-linecap="butt"/>
<line x1="602.30" y1="1288.40" x2="996.50" y2="917.00" stroke="#000" stroke-width="1.5" stroke-linecap="butt"/>
<line x1="602.30" y1="1299.50" x2="996.50" y2="925.40" stroke="#000" stroke-width="1.5" stroke-linecap="butt"/>
<line x1="602.30" y1="1340.50" x2="996.50" y2="1151.80" stroke="#000" stroke-width="1.5" stroke-linecap="butt"/>
<line x1="602.30" y1="1348.70" x2="996.50" y2="1155.00" stroke="#000" stroke-width="1.5" stroke-linecap="butt"/>
</g>
<line x1="629.70" y1="1120.33" x2="629.70" y2="1126.33" stroke="#222" stroke-width="1.0" stroke-linecap="butt"/>
<line x1="742.90" y1="990.23" x2="742.90" y2="996.23" stroke="#222" stroke-width="1.0" stroke-linecap="butt"/>
<line x1="968.20" y1="795.93" x2="968.20" y2="801.93" stroke="#222" stroke-width="1.0" stroke-linecap="butt"/>
<line x1="629.70" y1="1130.83" x2="629.70" y2="1136.83" stroke="#222" stroke-width="1.0" stroke-linecap="butt"/>
<line x1="742.90" y1="998.93" x2="742.90" y2="1004.93" stroke="#222" stroke-width="1.0" stroke-linecap="butt"/>
<line x1="968.20" y1="806.63" x2="968.20" y2="812.63" stroke="#222" stroke-width="1.0" stroke-linecap="butt"/>
<line x1="629.70" y1="1273.77" x2="629.70" y2="1279.77" stroke="#222" stroke-width="1.0" stroke-linecap="butt"/>
<line x1="742.90" y1="1130.77" x2="742.90" y2="1136.77" stroke="#222" stroke-width="1.0" stroke-linecap="butt"/>
<line x1="968.20" y1="943.27" x2="968.20" y2="949.27" stroke="#222" stroke-width="1.0" stroke-linecap="butt"/>
<line x1="629.70" y1="1283.27" x2="629.70" y2="1289.27" stroke="#222" stroke-width="1.0" stroke-linecap="butt"/>
<line x1="742.90" y1="1141.27" x2="742.90" y2="1147.27" stroke="#222" stroke-width="1.0" stroke-linecap="butt"/>
<line x1="968.20" y1="950.47" x2="968.20" y2="956.47" stroke="#222" stroke-width="1.0" stroke-linecap="butt"/>
<line x1="629.70" y1="1321.00" x2="629.70" y2="1327.00" stroke="#222" stroke-width="1.0" stroke-linecap="butt"/>
<line x1="742.90" y1="1271.80" x2="742.90" y2="1277.80" stroke="#222" stroke-width="1.0" stroke-linecap="butt"/>
<line x1="968.20" y1="1159.60" x2="968.20" y2="1165.60" stroke="#222" stroke-width="1.0" stroke-linecap="butt"/>
<line x1="629.70" y1="1330.40" x2="629.70" y2="1336.40" stroke="#222" stroke-width="1.0" stroke-linecap="butt"/>
<line x1="742.90" y1="1278.90" x2="742.90" y2="1284.90" stroke="#222" stroke-width="1.0" stroke-linecap="butt"/>
<line x1="968.20" y1="1165.30" x2="968.20" y2="1171.30" stroke="#222" stroke-width="1.0" stroke-linecap="butt"/>
<polygon points="629.70,1114.40 636.85,1127.80 622.55,1127.80" fill="#000"/>
<polygon points="742.90,984.30 750.05,997.70 735.75,997.70" fill="#000"/>
<polygon points="968.20,790.00 975.35,803.40 961.05,803.40" fill="#000"/>
<polygon points="629.70,1126.33 635.71,1137.59 623.69,1137.59" fill="#fff" stroke="#000" stroke-width="1.5" stroke-linejoin="miter"/>
<polygon points="742.90,994.43 748.91,1005.69 736.89,1005.69" fill="#fff" stroke="#000" stroke-width="1.5" stroke-linejoin="miter"/>
<polygon points="968.20,802.13 974.21,813.39 962.19,813.39" fill="#fff" stroke="#000" stroke-width="1.5" stroke-linejoin="miter"/>
<polygon points="629.70,1285.70 636.85,1272.30 622.55,1272.30" fill="#000"/>
<polygon points="742.90,1142.70 750.05,1129.30 735.75,1129.30" fill="#000"/>
<polygon points="968.20,955.20 975.35,941.80 961.05,941.80" fill="#000"/>
<polygon points="629.70,1293.77 635.71,1282.51 623.69,1282.51" fill="#fff" stroke="#000" stroke-width="1.5" stroke-linejoin="miter"/>
<polygon points="742.90,1151.77 748.91,1140.51 736.89,1140.51" fill="#fff" stroke="#000" stroke-width="1.5" stroke-linejoin="miter"/>
<polygon points="968.20,960.97 974.21,949.71 962.19,949.71" fill="#fff" stroke="#000" stroke-width="1.5" stroke-linejoin="miter"/>
<polygon points="629.70,1316.30 636.80,1324.00 629.70,1331.70 622.60,1324.00" fill="#000"/>
<polygon points="742.90,1267.10 750.00,1274.80 742.90,1282.50 735.80,1274.80" fill="#000"/>
<polygon points="968.20,1154.90 975.30,1162.60 968.20,1170.30 961.10,1162.60" fill="#000"/>
<polygon points="629.70,1326.50 636.00,1333.40 629.70,1340.30 623.40,1333.40" fill="#fff" stroke="#000" stroke-width="1.5"/>
<polygon points="742.90,1275.00 749.20,1281.90 742.90,1288.80 736.60,1281.90" fill="#fff" stroke="#000" stroke-width="1.5"/>
<polygon points="968.20,1161.40 974.50,1168.30 968.20,1175.20 961.90,1168.30" fill="#fff" stroke="#000" stroke-width="1.5"/>
<line x1="619.20" y1="1120.33" x2="640.20" y2="1120.33" stroke="#222" stroke-width="1.1" stroke-linecap="butt"/>
<line x1="619.20" y1="1126.33" x2="640.20" y2="1126.33" stroke="#222" stroke-width="1.1" stroke-linecap="butt"/>
<line x1="732.40" y1="990.23" x2="753.40" y2="990.23" stroke="#222" stroke-width="1.1" stroke-linecap="butt"/>
<line x1="732.40" y1="996.23" x2="753.40" y2="996.23" stroke="#222" stroke-width="1.1" stroke-linecap="butt"/>
<line x1="957.70" y1="795.93" x2="978.70" y2="795.93" stroke="#222" stroke-width="1.1" stroke-linecap="butt"/>
<line x1="957.70" y1="801.93" x2="978.70" y2="801.93" stroke="#222" stroke-width="1.1" stroke-linecap="butt"/>
<line x1="619.20" y1="1130.83" x2="640.20" y2="1130.83" stroke="#222" stroke-width="1.1" stroke-linecap="butt"/>
<line x1="619.20" y1="1136.83" x2="640.20" y2="1136.83" stroke="#222" stroke-width="1.1" stroke-linecap="butt"/>
<line x1="732.40" y1="998.93" x2="753.40" y2="998.93" stroke="#222" stroke-width="1.1" stroke-linecap="butt"/>
<line x1="732.40" y1="1004.93" x2="753.40" y2="1004.93" stroke="#222" stroke-width="1.1" stroke-linecap="butt"/>
<line x1="957.70" y1="806.63" x2="978.70" y2="806.63" stroke="#222" stroke-width="1.1" stroke-linecap="butt"/>
<line x1="957.70" y1="812.63" x2="978.70" y2="812.63" stroke="#222" stroke-width="1.1" stroke-linecap="butt"/>
<line x1="619.20" y1="1273.77" x2="640.20" y2="1273.77" stroke="#222" stroke-width="1.1" stroke-linecap="butt"/>
<line x1="619.20" y1="1279.77" x2="640.20" y2="1279.77" stroke="#222" stroke-width="1.1" stroke-linecap="butt"/>
<line x1="732.40" y1="1130.77" x2="753.40" y2="1130.77" stroke="#222" stroke-width="1.1" stroke-linecap="butt"/>
<line x1="732.40" y1="1136.77" x2="753.40" y2="1136.77" stroke="#222" stroke-width="1.1" stroke-linecap="butt"/>
<line x1="957.70" y1="943.27" x2="978.70" y2="943.27" stroke="#222" stroke-width="1.1" stroke-linecap="butt"/>
<line x1="957.70" y1="949.27" x2="978.70" y2="949.27" stroke="#222" stroke-width="1.1" stroke-linecap="butt"/>
<line x1="619.20" y1="1283.27" x2="640.20" y2="1283.27" stroke="#222" stroke-width="1.1" stroke-linecap="butt"/>
<line x1="619.20" y1="1289.27" x2="640.20" y2="1289.27" stroke="#222" stroke-width="1.1" stroke-linecap="butt"/>
<line x1="732.40" y1="1141.27" x2="753.40" y2="1141.27" stroke="#222" stroke-width="1.1" stroke-linecap="butt"/>
<line x1="732.40" y1="1147.27" x2="753.40" y2="1147.27" stroke="#222" stroke-width="1.1" stroke-linecap="butt"/>
<line x1="957.70" y1="950.47" x2="978.70" y2="950.47" stroke="#222" stroke-width="1.1" stroke-linecap="butt"/>
<line x1="957.70" y1="956.47" x2="978.70" y2="956.47" stroke="#222" stroke-width="1.1" stroke-linecap="butt"/>
<line x1="619.20" y1="1321.00" x2="640.20" y2="1321.00" stroke="#222" stroke-width="1.1" stroke-linecap="butt"/>
<line x1="619.20" y1="1327.00" x2="640.20" y2="1327.00" stroke="#222" stroke-width="1.1" stroke-linecap="butt"/>
<line x1="732.40" y1="1271.80" x2="753.40" y2="1271.80" stroke="#222" stroke-width="1.1" stroke-linecap="butt"/>
<line x1="732.40" y1="1277.80" x2="753.40" y2="1277.80" stroke="#222" stroke-width="1.1" stroke-linecap="butt"/>
<line x1="957.70" y1="1159.60" x2="978.70" y2="1159.60" stroke="#222" stroke-width="1.1" stroke-linecap="butt"/>
<line x1="957.70" y1="1165.60" x2="978.70" y2="1165.60" stroke="#222" stroke-width="1.1" stroke-linecap="butt"/>
<line x1="619.20" y1="1330.40" x2="640.20" y2="1330.40" stroke="#222" stroke-width="1.1" stroke-linecap="butt"/>
<line x1="619.20" y1="1336.40" x2="640.20" y2="1336.40" stroke="#222" stroke-width="1.1" stroke-linecap="butt"/>
<line x1="732.40" y1="1278.90" x2="753.40" y2="1278.90" stroke="#222" stroke-width="1.1" stroke-linecap="butt"/>
<line x1="732.40" y1="1284.90" x2="753.40" y2="1284.90" stroke="#222" stroke-width="1.1" stroke-linecap="butt"/>
<line x1="957.70" y1="1165.30" x2="978.70" y2="1165.30" stroke="#222" stroke-width="1.1" stroke-linecap="butt"/>
<line x1="957.70" y1="1171.30" x2="978.70" y2="1171.30" stroke="#222" stroke-width="1.1" stroke-linecap="butt"/>
<line x1="601.30" y1="765.10" x2="997.50" y2="765.10" stroke="#000" stroke-width="2.4" stroke-linecap="butt"/>
<line x1="601.30" y1="1363.10" x2="997.50" y2="1363.10" stroke="#000" stroke-width="2.4" stroke-linecap="butt"/>
<line x1="602.30" y1="764.10" x2="602.30" y2="1364.10" stroke="#000" stroke-width="2.4" stroke-linecap="butt"/>
<line x1="996.50" y1="764.10" x2="996.50" y2="1364.10" stroke="#000" stroke-width="2.4" stroke-linecap="butt"/>
<line x1="629.90" y1="1363.10" x2="629.90" y2="1351.20" stroke="#000" stroke-width="2.4" stroke-linecap="butt"/>
<line x1="629.90" y1="765.10" x2="629.90" y2="777.00" stroke="#000" stroke-width="2.4" stroke-linecap="butt"/>
<line x1="743.40" y1="1363.10" x2="743.40" y2="1351.20" stroke="#000" stroke-width="2.4" stroke-linecap="butt"/>
<line x1="743.40" y1="765.10" x2="743.40" y2="777.00" stroke="#000" stroke-width="2.4" stroke-linecap="butt"/>
<line x1="855.80" y1="1363.10" x2="855.80" y2="1351.20" stroke="#000" stroke-width="2.4" stroke-linecap="butt"/>
<line x1="855.80" y1="765.10" x2="855.80" y2="777.00" stroke="#000" stroke-width="2.4" stroke-linecap="butt"/>
<line x1="968.20" y1="1363.10" x2="968.20" y2="1351.20" stroke="#000" stroke-width="2.4" stroke-linecap="butt"/>
<line x1="968.20" y1="765.10" x2="968.20" y2="777.00" stroke="#000" stroke-width="2.4" stroke-linecap="butt"/>
<line x1="686.60" y1="1363.10" x2="686.60" y2="1357.30" stroke="#000" stroke-width="2.4" stroke-linecap="butt"/>
<line x1="686.60" y1="765.10" x2="686.60" y2="770.90" stroke="#000" stroke-width="2.4" stroke-linecap="butt"/>
<line x1="799.60" y1="1363.10" x2="799.60" y2="1357.30" stroke="#000" stroke-width="2.4" stroke-linecap="butt"/>
<line x1="799.60" y1="765.10" x2="799.60" y2="770.90" stroke="#000" stroke-width="2.4" stroke-linecap="butt"/>
<line x1="912.20" y1="1363.10" x2="912.20" y2="1357.30" stroke="#000" stroke-width="2.4" stroke-linecap="butt"/>
<line x1="912.20" y1="765.10" x2="912.20" y2="770.90" stroke="#000" stroke-width="2.4" stroke-linecap="butt"/>
<line x1="602.30" y1="851.90" x2="612.60" y2="851.90" stroke="#000" stroke-width="2.4" stroke-linecap="butt"/>
<line x1="996.50" y1="851.90" x2="986.20" y2="851.90" stroke="#000" stroke-width="2.4" stroke-linecap="butt"/>
<line x1="602.30" y1="998.10" x2="612.60" y2="998.10" stroke="#000" stroke-width="2.4" stroke-linecap="butt"/>
<line x1="996.50" y1="998.10" x2="986.20" y2="998.10" stroke="#000" stroke-width="2.4" stroke-linecap="butt"/>
<line x1="602.30" y1="1144.40" x2="612.60" y2="1144.40" stroke="#000" stroke-width="2.4" stroke-linecap="butt"/>
<line x1="996.50" y1="1144.40" x2="986.20" y2="1144.40" stroke="#000" stroke-width="2.4" stroke-linecap="butt"/>
<line x1="602.30" y1="1290.60" x2="612.60" y2="1290.60" stroke="#000" stroke-width="2.4" stroke-linecap="butt"/>
<line x1="996.50" y1="1290.60" x2="986.20" y2="1290.60" stroke="#000" stroke-width="2.4" stroke-linecap="butt"/>
<line x1="602.30" y1="779.20" x2="607.70" y2="779.20" stroke="#000" stroke-width="2.4" stroke-linecap="butt"/>
<line x1="996.50" y1="779.20" x2="991.10" y2="779.20" stroke="#000" stroke-width="2.4" stroke-linecap="butt"/>
<line x1="602.30" y1="924.70" x2="607.70" y2="924.70" stroke="#000" stroke-width="2.4" stroke-linecap="butt"/>
<line x1="996.50" y1="924.70" x2="991.10" y2="924.70" stroke="#000" stroke-width="2.4" stroke-linecap="butt"/>
<line x1="602.30" y1="1071.40" x2="607.70" y2="1071.40" stroke="#000" stroke-width="2.4" stroke-linecap="butt"/>
<line x1="996.50" y1="1071.40" x2="991.10" y2="1071.40" stroke="#000" stroke-width="2.4" stroke-linecap="butt"/>
<line x1="602.30" y1="1217.30" x2="607.70" y2="1217.30" stroke="#000" stroke-width="2.4" stroke-linecap="butt"/>
<line x1="996.50" y1="1217.30" x2="991.10" y2="1217.30" stroke="#000" stroke-width="2.4" stroke-linecap="butt"/>
<text x="573.10" y="862.89" font-size="25.3" textLength="25.08" lengthAdjust="spacingAndGlyphs">25</text>
<text x="573.41" y="1008.89" font-size="25.3" textLength="24.73" lengthAdjust="spacingAndGlyphs">20</text>
<text x="575.19" y="1154.99" font-size="25.3" textLength="22.91" lengthAdjust="spacingAndGlyphs">15</text>
<text x="574.64" y="1300.89" font-size="25.3" textLength="23.45" lengthAdjust="spacingAndGlyphs">10</text>
<text x="622.71" y="1396.90" font-size="25.3" textLength="23.23" lengthAdjust="spacingAndGlyphs">10</text>
<text x="733.90" y="1396.90" font-size="25.3" textLength="25.06" lengthAdjust="spacingAndGlyphs">20</text>
<text x="846.27" y="1396.90" font-size="25.3" textLength="25.60" lengthAdjust="spacingAndGlyphs">30</text>
<text x="960.13" y="1396.90" font-size="25.3" textLength="24.19" lengthAdjust="spacingAndGlyphs">40</text>
<text x="692.24" y="1438.10" font-size="26.3" textLength="212.23" lengthAdjust="spacingAndGlyphs">Exposure dose (Gy)</text>
<text transform="translate(560.80,1142.97) rotate(-90)" x="0" y="0" font-size="26.4" textLength="255.33" lengthAdjust="spacingAndGlyphs">MDA (nM)/mg protein)</text>
<text x="599.92" y="755.00" font-size="27.0">d</text>
<polygon points="636.20,786.30 643.35,799.70 629.05,799.70" fill="#000"/>
<text x="654.79" y="805.10" font-size="22.3">CMC+IR (3 h)</text>
<polygon points="636.20,814.63 642.21,825.89 630.19,825.89" fill="#fff" stroke="#000" stroke-width="1.5" stroke-linejoin="miter"/>
<text x="654.79" y="832.00" font-size="22.3">CUM+IR (3 h)</text>
<polygon points="636.20,857.70 643.35,844.30 629.05,844.30" fill="#000"/>
<text x="654.79" y="859.00" font-size="22.3">CMC+IR (24 h)</text>
<polygon points="636.20,883.27 642.21,872.01 630.19,872.01" fill="#fff" stroke="#000" stroke-width="1.5" stroke-linejoin="miter"/>
<text x="654.79" y="885.80" font-size="22.3">CUM+IR (24 h)</text>
<polygon points="636.20,895.10 643.30,902.80 636.20,910.50 629.10,902.80" fill="#000"/>
<text x="654.79" y="912.70" font-size="22.3">CMC+IR (72 h)</text>
<polygon points="636.20,922.80 642.50,929.70 636.20,936.60 629.90,929.70" fill="#fff" stroke="#000" stroke-width="1.5"/>
<text x="654.79" y="939.30" font-size="22.3">CUM+IR (72 h)</text>
</svg></body></html>
